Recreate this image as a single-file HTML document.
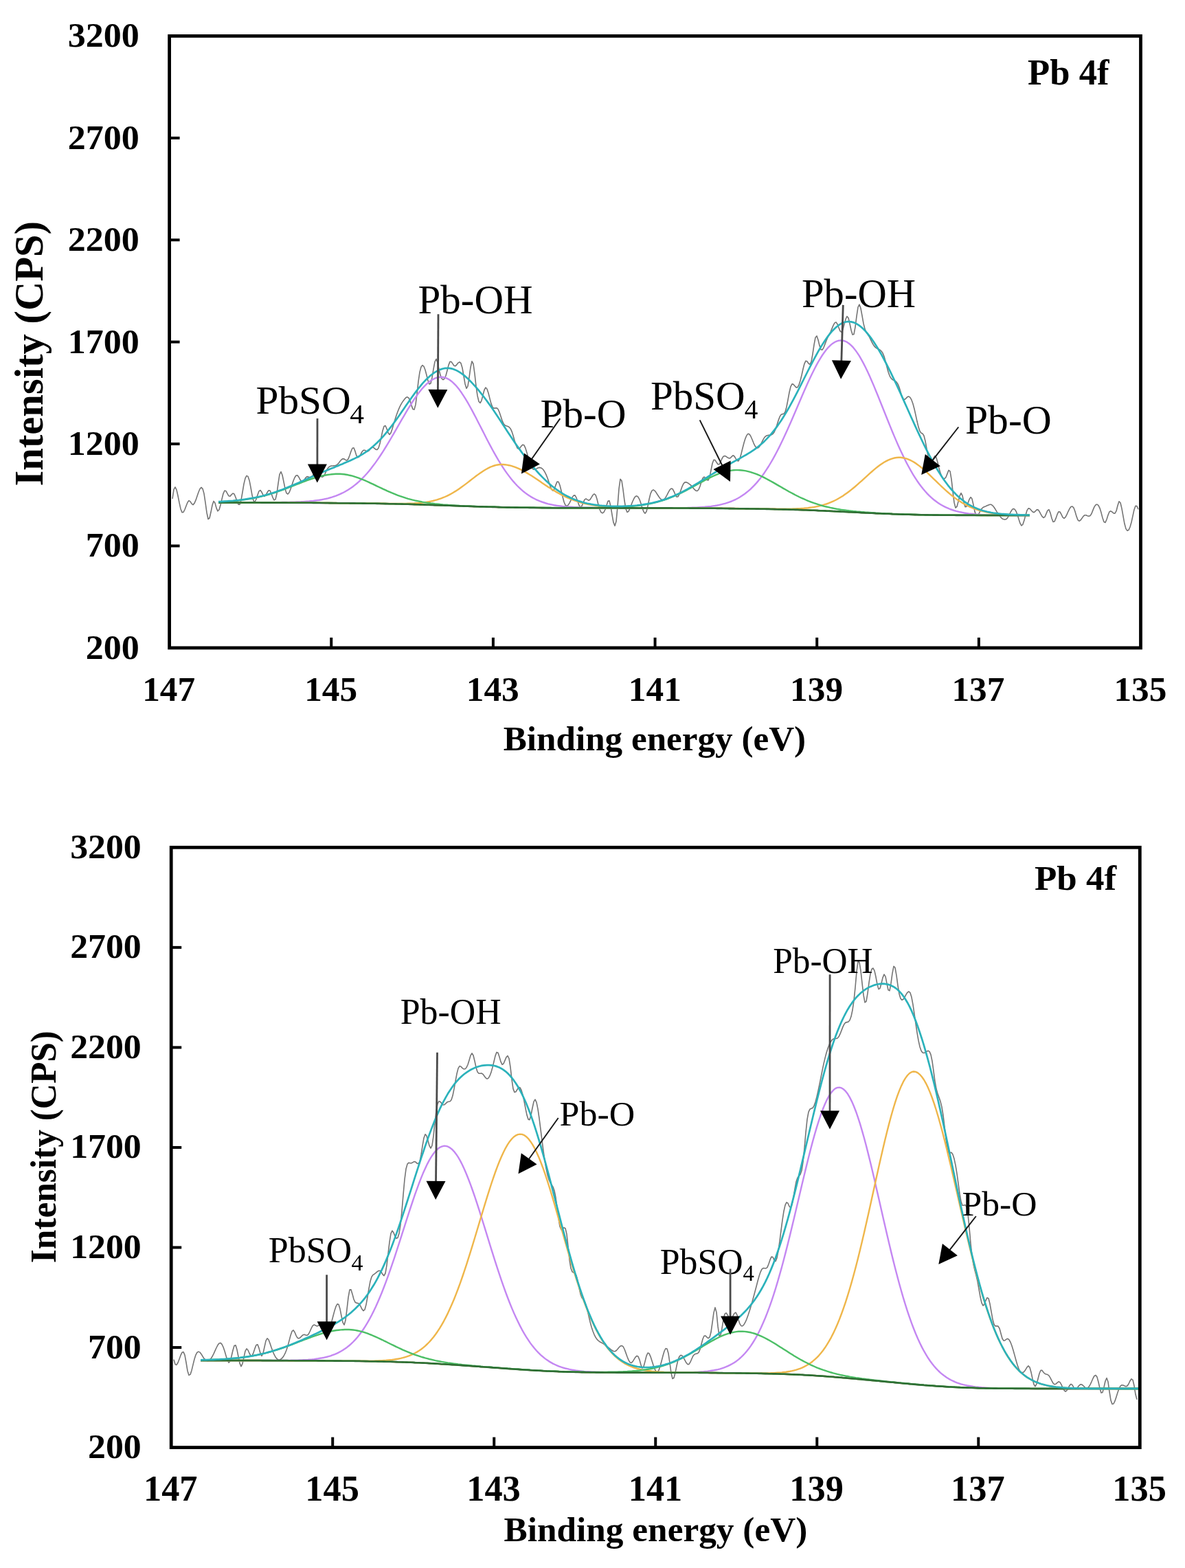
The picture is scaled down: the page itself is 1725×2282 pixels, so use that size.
<!DOCTYPE html>
<html><head><meta charset="utf-8"><title>Pb 4f XPS spectra</title>
<style>html,body{margin:0;padding:0;background:#fff;overflow:hidden;}svg{display:block;}
text{font-family:'Liberation Serif','Times New Roman',serif;}</style></head>
<body><svg width="1725" height="2282" viewBox="0 0 1725 2282">
<rect width="1725" height="2282" fill="#fff"/>
<polyline points="251.0,725.9 253.0,712.3 255.0,708.9 257.0,712.9 259.0,721.5 261.0,731.7 263.0,740.7 265.0,745.6 267.0,745.4 269.0,741.5 271.0,736.2 273.0,731.2 275.0,728.6 277.0,729.9 279.0,733.2 281.0,734.6 283.0,732.4 285.0,727.9 287.0,722.0 289.0,716.2 291.0,711.5 293.0,709.4 295.0,711.3 297.0,718.4 299.0,731.6 301.0,746.2 303.0,755.5 305.0,754.0 307.0,745.3 309.0,735.3 311.0,729.4 313.0,732.1 315.0,739.4 317.0,743.8 319.0,741.7 321.0,735.0 323.0,726.4 325.0,718.3 327.0,714.0 329.0,714.7 331.0,718.3 333.0,721.8 335.0,722.1 337.0,719.9 339.0,718.0 341.0,719.0 343.0,723.8 345.0,729.7 347.0,734.1 349.0,734.3 351.0,727.9 353.0,716.4 355.0,704.4 357.0,696.1 359.0,692.4 361.0,693.4 363.0,699.2 365.0,709.3 367.0,720.6 369.0,728.9 371.0,730.5 373.0,726.5 375.0,720.2 377.0,714.8 379.0,713.5 381.0,716.3 383.0,720.4 385.0,722.3 387.0,720.4 389.0,716.7 391.0,713.7 393.0,714.0 395.0,718.3 397.0,724.0 399.0,727.9 401.0,726.9 403.0,718.2 405.0,703.4 407.0,690.4 409.0,686.5 411.0,691.5 413.0,701.1 415.0,711.2 417.0,717.7 419.0,719.1 421.0,716.7 423.0,711.8 425.0,705.7 427.0,699.8 429.0,695.0 431.0,692.0 433.0,691.7 435.0,694.4 437.0,698.3 439.0,701.1 441.0,700.9 443.0,698.3 445.0,695.2 447.0,693.6 449.0,694.0 451.0,694.8 453.0,694.4 455.0,692.2 457.0,689.2 459.0,687.1 461.0,686.9 463.0,688.6 465.0,691.1 467.0,693.3 469.0,694.4 471.0,693.4 473.0,689.8 475.0,685.4 477.0,681.7 479.0,679.5 481.0,678.4 483.0,678.0 485.0,677.9 487.0,677.7 489.0,677.2 491.0,676.1 493.0,674.0 495.0,671.3 497.0,669.0 499.0,667.6 501.0,668.0 503.0,669.4 505.0,670.0 507.0,667.9 509.0,662.8 511.0,656.8 513.0,652.2 515.0,651.8 517.0,656.9 519.0,663.4 521.0,665.8 523.0,664.5 525.0,661.1 527.0,657.5 529.0,655.3 531.0,655.3 533.0,656.4 535.0,657.1 537.0,655.9 539.0,653.3 541.0,651.1 543.0,650.9 545.0,652.4 547.0,654.1 549.0,654.5 551.0,652.1 553.0,645.6 555.0,636.3 557.0,626.9 559.0,620.4 561.0,619.5 563.0,624.0 565.0,629.7 567.0,632.4 569.0,630.0 571.0,624.2 573.0,617.3 575.0,610.7 577.0,604.5 579.0,599.0 581.0,594.1 583.0,589.9 585.0,586.4 587.0,583.4 589.0,580.8 591.0,578.6 593.0,577.8 595.0,579.1 597.0,583.6 599.0,590.1 601.0,595.4 603.0,596.1 605.0,588.9 607.0,573.1 609.0,555.1 611.0,541.6 613.0,534.0 615.0,531.5 617.0,533.3 619.0,538.5 621.0,546.0 623.0,554.0 625.0,559.0 627.0,558.0 629.0,549.4 631.0,537.2 633.0,526.5 635.0,522.5 637.0,527.8 639.0,537.5 641.0,545.9 643.0,551.0 645.0,552.7 647.0,551.2 649.0,546.7 651.0,539.3 653.0,531.4 655.0,526.4 657.0,526.5 659.0,529.4 661.0,532.2 663.0,532.6 665.0,530.6 667.0,528.1 669.0,526.8 671.0,528.7 673.0,535.5 675.0,547.0 677.0,558.7 679.0,565.3 681.0,561.9 683.0,549.3 685.0,534.7 687.0,525.8 689.0,529.5 691.0,544.0 693.0,561.8 695.0,575.9 697.0,584.2 699.0,586.5 701.0,582.8 703.0,575.1 705.0,567.5 707.0,564.0 709.0,566.2 711.0,572.3 713.0,580.1 715.0,587.6 717.0,592.6 719.0,594.2 721.0,593.9 723.0,593.7 725.0,595.5 727.0,600.0 729.0,606.1 731.0,612.1 733.0,616.6 735.0,618.9 737.0,619.8 739.0,620.4 741.0,621.5 743.0,623.7 745.0,627.8 747.0,634.0 749.0,641.0 751.0,647.4 753.0,652.0 755.0,653.4 757.0,651.8 759.0,649.1 761.0,647.2 763.0,648.1 765.0,652.4 767.0,658.9 769.0,666.3 771.0,673.3 773.0,678.7 775.0,682.1 777.0,683.3 779.0,683.1 781.0,682.1 783.0,681.0 785.0,680.4 787.0,680.7 789.0,681.8 791.0,683.8 793.0,686.9 795.0,690.9 797.0,695.8 799.0,701.7 801.0,707.6 803.0,712.3 805.0,714.1 807.0,711.8 809.0,705.9 811.0,701.1 813.0,701.3 815.0,706.3 817.0,714.2 819.0,722.9 821.0,730.5 823.0,735.1 825.0,736.4 827.0,735.1 829.0,732.1 831.0,728.1 833.0,723.9 835.0,721.1 837.0,720.9 839.0,724.4 841.0,730.1 843.0,735.6 845.0,738.2 847.0,736.3 849.0,731.5 851.0,727.1 853.0,725.8 855.0,727.1 857.0,728.3 859.0,727.0 861.0,723.9 863.0,720.5 865.0,718.8 867.0,720.3 869.0,726.3 871.0,734.5 873.0,741.5 875.0,745.6 877.0,746.8 879.0,745.3 881.0,741.5 883.0,735.4 885.0,729.3 887.0,728.9 889.0,737.0 891.0,749.2 893.0,760.3 895.0,765.3 897.0,758.8 899.0,737.4 901.0,711.4 903.0,697.2 905.0,699.7 907.0,712.5 909.0,728.5 911.0,740.7 913.0,745.4 915.0,744.2 917.0,739.8 919.0,734.5 921.0,729.5 923.0,725.3 925.0,722.6 927.0,721.8 929.0,723.4 931.0,727.1 933.0,732.8 935.0,739.4 937.0,744.8 939.0,747.2 941.0,744.6 943.0,736.5 945.0,726.5 947.0,718.4 949.0,714.1 951.0,712.9 953.0,714.1 955.0,716.6 957.0,719.7 959.0,722.8 961.0,725.5 963.0,727.2 965.0,727.5 967.0,726.4 969.0,723.9 971.0,720.3 973.0,716.3 975.0,712.9 977.0,711.0 979.0,711.5 981.0,715.1 983.0,719.8 985.0,723.1 987.0,722.8 989.0,719.1 991.0,713.7 993.0,708.0 995.0,703.8 997.0,701.9 999.0,701.7 1001.0,702.7 1003.0,704.1 1005.0,705.7 1007.0,707.6 1009.0,709.9 1011.0,712.4 1013.0,714.1 1015.0,714.5 1017.0,712.5 1019.0,707.7 1021.0,701.3 1023.0,695.8 1025.0,694.0 1027.0,695.8 1029.0,698.5 1031.0,699.0 1033.0,694.4 1035.0,684.5 1037.0,674.5 1039.0,669.3 1041.0,669.6 1043.0,672.8 1045.0,675.8 1047.0,675.8 1049.0,672.2 1051.0,667.5 1053.0,664.2 1055.0,663.5 1057.0,664.3 1059.0,665.8 1061.0,666.9 1063.0,666.7 1065.0,664.6 1067.0,662.8 1069.0,664.0 1071.0,667.4 1073.0,670.5 1075.0,671.0 1077.0,667.2 1079.0,660.4 1081.0,652.2 1083.0,644.5 1085.0,638.1 1087.0,633.5 1089.0,631.3 1091.0,632.0 1093.0,635.2 1095.0,639.8 1097.0,644.8 1099.0,649.0 1101.0,651.5 1103.0,652.0 1105.0,650.6 1107.0,647.7 1109.0,643.7 1111.0,639.6 1113.0,636.4 1115.0,634.6 1117.0,633.7 1119.0,633.3 1121.0,633.2 1123.0,632.7 1125.0,631.5 1127.0,628.9 1129.0,624.5 1131.0,618.5 1133.0,612.1 1135.0,606.7 1137.0,603.4 1139.0,602.6 1141.0,602.2 1143.0,599.5 1145.0,592.2 1147.0,581.8 1149.0,571.0 1151.0,562.6 1153.0,558.9 1155.0,559.4 1157.0,561.8 1159.0,563.9 1161.0,563.7 1163.0,560.1 1165.0,554.0 1167.0,546.0 1169.0,537.0 1171.0,529.3 1173.0,525.2 1175.0,526.0 1177.0,529.0 1179.0,530.3 1181.0,526.3 1183.0,515.3 1185.0,501.8 1187.0,491.2 1189.0,488.9 1191.0,494.7 1193.0,503.1 1195.0,508.8 1197.0,509.2 1199.0,505.8 1201.0,500.6 1203.0,495.4 1205.0,491.0 1207.0,487.1 1209.0,483.0 1211.0,478.4 1213.0,473.6 1215.0,469.9 1217.0,468.9 1219.0,471.7 1221.0,477.0 1223.0,481.9 1225.0,483.4 1227.0,479.4 1229.0,471.9 1231.0,464.5 1233.0,460.4 1235.0,462.8 1237.0,471.0 1239.0,480.5 1241.0,487.1 1243.0,486.4 1245.0,475.8 1247.0,460.2 1249.0,447.0 1251.0,443.2 1253.0,448.8 1255.0,459.6 1257.0,470.9 1259.0,478.9 1261.0,483.5 1263.0,486.6 1265.0,489.5 1267.0,493.4 1269.0,497.6 1271.0,501.4 1273.0,504.2 1275.0,506.1 1277.0,507.3 1279.0,508.2 1281.0,509.3 1283.0,511.0 1285.0,513.9 1287.0,518.8 1289.0,525.8 1291.0,533.8 1293.0,541.2 1295.0,546.8 1297.0,550.3 1299.0,552.4 1301.0,553.5 1303.0,554.5 1305.0,556.0 1307.0,558.9 1309.0,563.8 1311.0,570.5 1313.0,577.0 1315.0,581.0 1317.0,581.4 1319.0,579.6 1321.0,577.6 1323.0,577.0 1325.0,578.6 1327.0,582.2 1329.0,587.8 1331.0,595.2 1333.0,604.1 1335.0,613.3 1337.0,621.6 1339.0,627.6 1341.0,630.2 1343.0,631.1 1345.0,634.2 1347.0,642.1 1349.0,653.1 1351.0,664.2 1353.0,672.7 1355.0,675.7 1357.0,672.4 1359.0,666.7 1361.0,663.5 1363.0,666.3 1365.0,673.3 1367.0,681.6 1369.0,688.6 1371.0,693.6 1373.0,696.4 1375.0,696.8 1377.0,694.5 1379.0,689.4 1381.0,684.4 1383.0,685.8 1385.0,697.7 1387.0,715.3 1389.0,731.4 1391.0,739.1 1393.0,737.2 1395.0,729.9 1397.0,721.9 1399.0,717.6 1401.0,721.4 1403.0,730.9 1405.0,737.6 1407.0,737.1 1409.0,732.3 1411.0,726.7 1413.0,723.6 1415.0,726.1 1417.0,734.9 1419.0,744.6 1421.0,750.0 1423.0,750.3 1425.0,747.5 1427.0,743.6 1429.0,740.4 1431.0,738.5 1433.0,737.5 1435.0,736.8 1437.0,735.8 1439.0,734.9 1441.0,734.3 1443.0,734.3 1445.0,735.8 1447.0,738.2 1449.0,741.3 1451.0,744.6 1453.0,747.7 1455.0,750.6 1457.0,753.1 1459.0,754.9 1461.0,755.8 1463.0,756.1 1465.0,755.4 1467.0,753.2 1469.0,749.6 1471.0,745.5 1473.0,742.1 1475.0,740.4 1477.0,741.1 1479.0,744.0 1481.0,749.0 1483.0,755.6 1485.0,761.7 1487.0,765.0 1489.0,763.1 1491.0,757.1 1493.0,749.4 1495.0,742.9 1497.0,739.9 1499.0,740.3 1501.0,742.5 1503.0,744.8 1505.0,745.8 1507.0,744.2 1509.0,741.9 1511.0,741.8 1513.0,744.3 1515.0,748.1 1517.0,751.6 1519.0,753.5 1521.0,752.2 1523.0,747.6 1525.0,742.9 1527.0,741.7 1529.0,746.6 1531.0,754.2 1533.0,759.5 1535.0,759.0 1537.0,754.4 1539.0,748.7 1541.0,744.7 1543.0,745.0 1545.0,748.7 1547.0,752.8 1549.0,754.4 1551.0,752.7 1553.0,748.9 1555.0,744.3 1557.0,740.3 1559.0,737.6 1561.0,737.0 1563.0,739.1 1565.0,744.6 1567.0,751.4 1569.0,756.7 1571.0,758.3 1573.0,757.0 1575.0,754.3 1577.0,751.4 1579.0,749.7 1581.0,749.8 1583.0,750.7 1585.0,751.3 1587.0,750.6 1589.0,747.5 1591.0,742.4 1593.0,737.6 1595.0,734.7 1597.0,734.0 1599.0,735.6 1601.0,739.6 1603.0,746.1 1605.0,753.8 1607.0,759.5 1609.0,760.4 1611.0,756.0 1613.0,749.6 1615.0,744.8 1617.0,743.8 1619.0,745.2 1621.0,746.9 1623.0,747.1 1625.0,743.7 1627.0,735.8 1629.0,729.7 1631.0,731.7 1633.0,740.1 1635.0,751.4 1637.0,762.3 1639.0,769.6 1641.0,772.4 1643.0,771.3 1645.0,767.0 1647.0,760.0 1649.0,750.9 1651.0,741.7 1653.0,736.3 1655.0,736.6 1657.0,741.2" fill="none" stroke="#747474" stroke-width="1.6" stroke-linejoin="round"/>
<polyline points="318.0,731.3 321.0,731.3 324.0,731.3 327.0,731.3 330.0,731.3 333.0,731.3 336.0,731.3 339.0,731.3 342.0,731.3 345.0,731.3 348.0,731.3 351.0,731.3 354.0,731.3 357.0,731.3 360.0,731.3 363.0,731.3 366.0,731.3 369.0,731.3 372.0,731.2 375.0,731.2 378.0,731.2 381.0,731.2 384.0,731.2 387.0,731.2 390.0,731.2 393.0,731.2 396.0,731.2 399.0,731.1 402.0,731.1 405.0,731.1 408.0,731.1 411.0,731.0 414.0,731.0 417.0,730.9 420.0,730.9 423.0,730.8 426.0,730.7 429.0,730.6 432.0,730.5 435.0,730.4 438.0,730.3 441.0,730.1 444.0,729.9 447.0,729.7 450.0,729.5 453.0,729.2 456.0,728.9 459.0,728.5 462.0,728.1 465.0,727.7 468.0,727.2 471.0,726.6 474.0,726.0 477.0,725.3 480.0,724.5 483.0,723.6 486.0,722.6 489.0,721.6 492.0,720.4 495.0,719.1 498.0,717.7 501.0,716.2 504.0,714.5 507.0,712.7 510.0,710.8 513.0,708.7 516.0,706.4 519.0,704.0 522.0,701.4 525.0,698.6 528.0,695.6 531.0,692.5 534.0,689.2 537.0,685.7 540.0,682.0 543.0,678.1 546.0,674.1 549.0,669.9 552.0,665.5 555.0,661.0 558.0,656.3 561.0,651.5 564.0,646.6 567.0,641.6 570.0,636.5 573.0,631.3 576.0,626.1 579.0,620.9 582.0,615.7 585.0,610.4 588.0,605.3 591.0,600.2 594.0,595.2 597.0,590.3 600.0,585.6 603.0,581.0 606.0,576.7 609.0,572.6 612.0,568.7 615.0,565.1 618.0,561.9 621.0,558.9 624.0,556.3 627.0,554.1 630.0,552.2 633.0,550.7 636.0,549.7 639.0,549.0 642.0,548.8 645.0,549.0 648.0,549.7 651.0,550.9 654.0,552.5 657.0,554.7 660.0,557.3 663.0,560.3 666.0,563.8 669.0,567.6 672.0,571.8 675.0,576.3 678.0,581.1 681.0,586.2 684.0,591.5 687.0,596.9 690.0,602.6 693.0,608.3 696.0,614.2 699.0,620.0 702.0,625.9 705.0,631.8 708.0,637.7 711.0,643.5 714.0,649.1 717.0,654.7 720.0,660.1 723.0,665.4 726.0,670.5 729.0,675.4 732.0,680.1 735.0,684.6 738.0,688.9 741.0,692.9 744.0,696.8 747.0,700.4 750.0,703.8 753.0,707.0 756.0,709.9 759.0,712.7 762.0,715.3 765.0,717.6 768.0,719.8 771.0,721.8 774.0,723.6 777.0,725.3 780.0,726.8 783.0,728.2 786.0,729.4 789.0,730.5 792.0,731.5 795.0,732.5 798.0,733.3 801.0,734.0 804.0,734.6 807.0,735.2 810.0,735.7 813.0,736.1 816.0,736.5 819.0,736.9 822.0,737.2 825.0,737.4 828.0,737.7 831.0,737.8 834.0,738.0 837.0,738.2 840.0,738.3 843.0,738.4 846.0,738.5 849.0,738.6 852.0,738.7 855.0,738.7 858.0,738.8 861.0,738.8 864.0,738.9 867.0,738.9 870.0,738.9 873.0,739.0 876.0,739.0 879.0,739.0 882.0,739.0 885.0,739.0 888.0,739.0 891.0,739.1 894.0,739.1 897.0,739.1 900.0,739.1 903.0,739.1 906.0,739.1 909.0,739.1 912.0,739.1 915.0,739.1 918.0,739.1 921.0,739.1 924.0,739.2 927.0,739.2 930.0,739.2 933.0,739.2 936.0,739.2 939.0,739.2 942.0,739.2 945.0,739.2 948.0,739.2 951.0,739.2 954.0,739.2 957.0,739.2 960.0,739.2 963.0,739.2 966.0,739.3 969.0,739.3 972.0,739.3 975.0,739.3 978.0,739.3 981.0,739.3 984.0,739.3 987.0,739.3 990.0,739.3 993.0,739.4 996.0,739.4 999.0,739.4 1002.0,739.4 1005.0,739.4 1008.0,739.4 1011.0,739.5 1014.0,739.5 1017.0,739.5 1020.0,739.5 1023.0,739.6 1026.0,739.6 1029.0,739.6 1032.0,739.6 1035.0,739.7 1038.0,739.7 1041.0,739.7 1044.0,739.8 1047.0,739.8 1050.0,739.8 1053.0,739.8 1056.0,739.9 1059.0,739.9 1062.0,740.0 1065.0,740.0 1068.0,740.0 1071.0,740.1 1074.0,740.1 1077.0,740.2 1080.0,740.2 1083.0,740.2 1086.0,740.3 1089.0,740.3 1092.0,740.4 1095.0,740.4 1098.0,740.5 1101.0,740.5 1104.0,740.6 1107.0,740.6 1110.0,740.7 1113.0,740.7 1116.0,740.8 1119.0,740.8 1122.0,740.9 1125.0,741.0 1128.0,741.0 1131.0,741.1 1134.0,741.2 1137.0,741.2 1140.0,741.3 1143.0,741.4 1146.0,741.4 1149.0,741.5 1152.0,741.6 1155.0,741.7 1158.0,741.8 1161.0,741.9 1164.0,742.0 1167.0,742.1 1170.0,742.2 1173.0,742.3 1176.0,742.4 1179.0,742.5 1182.0,742.6 1185.0,742.7 1188.0,742.9 1191.0,743.0 1194.0,743.1 1197.0,743.3 1200.0,743.4 1203.0,743.5 1206.0,743.7 1209.0,743.8 1212.0,743.9 1215.0,744.1 1218.0,744.2 1221.0,744.4 1224.0,744.5 1227.0,744.7 1230.0,744.8 1233.0,745.0 1236.0,745.1 1239.0,745.3 1242.0,745.4 1245.0,745.6 1248.0,745.7 1251.0,745.9 1254.0,746.0 1257.0,746.2 1260.0,746.3 1263.0,746.5 1266.0,746.6 1269.0,746.8 1272.0,746.9 1275.0,747.0 1278.0,747.2 1281.0,747.3 1284.0,747.4 1287.0,747.6 1290.0,747.7 1293.0,747.8 1296.0,747.9 1299.0,748.0 1302.0,748.1 1305.0,748.2 1308.0,748.3 1311.0,748.4 1314.0,748.5 1317.0,748.6 1320.0,748.7 1323.0,748.8 1326.0,748.9 1329.0,748.9 1332.0,749.0 1335.0,749.1 1338.0,749.2 1341.0,749.2 1344.0,749.3 1347.0,749.3 1350.0,749.4 1353.0,749.4 1356.0,749.5 1359.0,749.5 1362.0,749.6 1365.0,749.6 1368.0,749.6 1371.0,749.7 1374.0,749.7 1377.0,749.7 1380.0,749.7 1383.0,749.8 1386.0,749.8 1389.0,749.8 1392.0,749.8 1395.0,749.8 1398.0,749.9 1401.0,749.9 1404.0,749.9 1407.0,749.9 1410.0,749.9 1413.0,749.9 1416.0,749.9 1419.0,749.9 1422.0,749.9 1425.0,749.9 1428.0,749.9 1431.0,749.9 1434.0,749.9 1437.0,750.0 1440.0,750.0 1443.0,750.0 1446.0,750.0 1449.0,750.0 1452.0,750.0 1455.0,750.0 1458.0,750.0 1461.0,750.0 1464.0,750.0 1467.0,750.0 1470.0,750.0 1473.0,750.0 1476.0,750.0 1479.0,750.0 1482.0,750.0 1485.0,750.0 1488.0,750.0 1491.0,750.0 1494.0,750.0 1497.0,750.0 1499.0,750.0" fill="none" stroke="#c487f2" stroke-width="2.4" stroke-linejoin="round"/>
<polyline points="318.0,731.5 321.0,731.5 324.0,731.5 327.0,731.5 330.0,731.5 333.0,731.5 336.0,731.5 339.0,731.5 342.0,731.5 345.0,731.5 348.0,731.5 351.0,731.5 354.0,731.5 357.0,731.5 360.0,731.5 363.0,731.5 366.0,731.5 369.0,731.5 372.0,731.5 375.0,731.5 378.0,731.5 381.0,731.6 384.0,731.6 387.0,731.6 390.0,731.6 393.0,731.6 396.0,731.6 399.0,731.6 402.0,731.6 405.0,731.6 408.0,731.6 411.0,731.6 414.0,731.6 417.0,731.6 420.0,731.7 423.0,731.7 426.0,731.7 429.0,731.7 432.0,731.7 435.0,731.7 438.0,731.7 441.0,731.8 444.0,731.8 447.0,731.8 450.0,731.8 453.0,731.8 456.0,731.9 459.0,731.9 462.0,731.9 465.0,731.9 468.0,732.0 471.0,732.0 474.0,732.0 477.0,732.0 480.0,732.1 483.0,732.1 486.0,732.1 489.0,732.1 492.0,732.2 495.0,732.2 498.0,732.2 501.0,732.3 504.0,732.3 507.0,732.3 510.0,732.4 513.0,732.4 516.0,732.4 519.0,732.5 522.0,732.5 525.0,732.5 528.0,732.6 531.0,732.6 534.0,732.7 537.0,732.7 540.0,732.7 543.0,732.8 546.0,732.8 549.0,732.9 552.0,732.9 555.0,733.0 558.0,733.0 561.0,733.1 564.0,733.1 567.0,733.2 570.0,733.3 573.0,733.3 576.0,733.4 579.0,733.5 582.0,733.5 585.0,733.6 588.0,733.7 591.0,733.8 594.0,733.8 597.0,733.9 600.0,734.0 603.0,734.1 606.0,734.2 609.0,734.3 612.0,734.4 615.0,734.5 618.0,734.6 621.0,734.7 624.0,734.8 627.0,734.9 630.0,735.0 633.0,735.1 636.0,735.2 639.0,735.3 642.0,735.4 645.0,735.5 648.0,735.6 651.0,735.7 654.0,735.8 657.0,735.9 660.0,736.0 663.0,736.1 666.0,736.3 669.0,736.4 672.0,736.5 675.0,736.6 678.0,736.7 681.0,736.8 684.0,736.9 687.0,737.0 690.0,737.1 693.0,737.2 696.0,737.3 699.0,737.4 702.0,737.4 705.0,737.5 708.0,737.6 711.0,737.7 714.0,737.8 717.0,737.9 720.0,737.9 723.0,738.0 726.0,738.1 729.0,738.2 732.0,738.2 735.0,738.3 738.0,738.4 741.0,738.4 744.0,738.5 747.0,738.5 750.0,738.6 753.0,738.6 756.0,738.7 759.0,738.7 762.0,738.8 765.0,738.8 768.0,738.8 771.0,738.9 774.0,738.9 777.0,738.9 780.0,739.0 783.0,739.0 786.0,739.0 789.0,739.1 792.0,739.1 795.0,739.1 798.0,739.1 801.0,739.1 804.0,739.2 807.0,739.2 810.0,739.2 813.0,739.2 816.0,739.2 819.0,739.2 822.0,739.2 825.0,739.3 828.0,739.3 831.0,739.3 834.0,739.3 837.0,739.3 840.0,739.3 843.0,739.3 846.0,739.3 849.0,739.3 852.0,739.3 855.0,739.3 858.0,739.3 861.0,739.3 864.0,739.3 867.0,739.3 870.0,739.3 873.0,739.3 876.0,739.3 879.0,739.3 882.0,739.3 885.0,739.3 888.0,739.3 891.0,739.3 894.0,739.3 897.0,739.3 900.0,739.3 903.0,739.4 906.0,739.4 909.0,739.4 912.0,739.4 915.0,739.4 918.0,739.4 921.0,739.4 924.0,739.4 927.0,739.4 930.0,739.4 933.0,739.4 936.0,739.4 939.0,739.4 942.0,739.4 945.0,739.4 948.0,739.4 951.0,739.4 954.0,739.4 957.0,739.4 960.0,739.4 963.0,739.4 966.0,739.4 969.0,739.3 972.0,739.3 975.0,739.3 978.0,739.3 981.0,739.3 984.0,739.3 987.0,739.2 990.0,739.2 993.0,739.2 996.0,739.1 999.0,739.1 1002.0,739.0 1005.0,738.9 1008.0,738.8 1011.0,738.7 1014.0,738.6 1017.0,738.4 1020.0,738.2 1023.0,738.0 1026.0,737.8 1029.0,737.5 1032.0,737.2 1035.0,736.9 1038.0,736.4 1041.0,736.0 1044.0,735.5 1047.0,734.9 1050.0,734.2 1053.0,733.4 1056.0,732.6 1059.0,731.7 1062.0,730.6 1065.0,729.5 1068.0,728.2 1071.0,726.8 1074.0,725.2 1077.0,723.5 1080.0,721.6 1083.0,719.6 1086.0,717.3 1089.0,714.9 1092.0,712.3 1095.0,709.4 1098.0,706.4 1101.0,703.1 1104.0,699.6 1107.0,695.9 1110.0,691.9 1113.0,687.7 1116.0,683.2 1119.0,678.5 1122.0,673.5 1125.0,668.3 1128.0,662.9 1131.0,657.3 1134.0,651.4 1137.0,645.3 1140.0,639.0 1143.0,632.6 1146.0,626.0 1149.0,619.3 1152.0,612.4 1155.0,605.5 1158.0,598.5 1161.0,591.5 1164.0,584.5 1167.0,577.5 1170.0,570.6 1173.0,563.7 1176.0,557.1 1179.0,550.5 1182.0,544.2 1185.0,538.2 1188.0,532.4 1191.0,526.9 1194.0,521.8 1197.0,517.0 1200.0,512.7 1203.0,508.8 1206.0,505.3 1209.0,502.4 1212.0,499.9 1215.0,498.0 1218.0,496.6 1221.0,495.7 1224.0,495.4 1227.0,495.6 1230.0,496.5 1233.0,497.9 1236.0,500.0 1239.0,502.6 1242.0,505.7 1245.0,509.4 1248.0,513.6 1251.0,518.2 1254.0,523.4 1257.0,528.9 1260.0,534.8 1263.0,541.1 1266.0,547.6 1269.0,554.4 1272.0,561.4 1275.0,568.7 1278.0,576.0 1281.0,583.5 1284.0,591.0 1287.0,598.5 1290.0,606.0 1293.0,613.5 1296.0,620.9 1299.0,628.2 1302.0,635.4 1305.0,642.4 1308.0,649.2 1311.0,655.8 1314.0,662.1 1317.0,668.3 1320.0,674.2 1323.0,679.8 1326.0,685.2 1329.0,690.3 1332.0,695.1 1335.0,699.7 1338.0,704.0 1341.0,708.0 1344.0,711.8 1347.0,715.3 1350.0,718.6 1353.0,721.6 1356.0,724.4 1359.0,727.0 1362.0,729.3 1365.0,731.5 1368.0,733.5 1371.0,735.3 1374.0,736.9 1377.0,738.4 1380.0,739.7 1383.0,741.0 1386.0,742.0 1389.0,743.0 1392.0,743.9 1395.0,744.6 1398.0,745.3 1401.0,745.9 1404.0,746.5 1407.0,747.0 1410.0,747.4 1413.0,747.7 1416.0,748.0 1419.0,748.3 1422.0,748.6 1425.0,748.8 1428.0,749.0 1431.0,749.1 1434.0,749.3 1437.0,749.4 1440.0,749.5 1443.0,749.6 1446.0,749.6 1449.0,749.7 1452.0,749.7 1455.0,749.8 1458.0,749.8 1461.0,749.8 1464.0,749.9 1467.0,749.9 1470.0,749.9 1473.0,749.9 1476.0,749.9 1479.0,750.0 1482.0,750.0 1485.0,750.0 1488.0,750.0 1491.0,750.0 1494.0,750.0 1497.0,750.0 1499.0,750.0" fill="none" stroke="#c487f2" stroke-width="2.4" stroke-linejoin="round"/>
<polyline points="318.0,731.5 321.0,731.5 324.0,731.5 327.0,731.5 330.0,731.5 333.0,731.5 336.0,731.5 339.0,731.5 342.0,731.5 345.0,731.5 348.0,731.5 351.0,731.5 354.0,731.5 357.0,731.5 360.0,731.5 363.0,731.5 366.0,731.5 369.0,731.5 372.0,731.5 375.0,731.5 378.0,731.5 381.0,731.5 384.0,731.5 387.0,731.5 390.0,731.5 393.0,731.5 396.0,731.5 399.0,731.5 402.0,731.5 405.0,731.6 408.0,731.6 411.0,731.6 414.0,731.6 417.0,731.6 420.0,731.6 423.0,731.6 426.0,731.6 429.0,731.6 432.0,731.7 435.0,731.7 438.0,731.7 441.0,731.7 444.0,731.7 447.0,731.7 450.0,731.8 453.0,731.8 456.0,731.8 459.0,731.8 462.0,731.8 465.0,731.9 468.0,731.9 471.0,731.9 474.0,731.9 477.0,731.9 480.0,732.0 483.0,732.0 486.0,732.0 489.0,732.0 492.0,732.1 495.0,732.1 498.0,732.1 501.0,732.2 504.0,732.2 507.0,732.2 510.0,732.3 513.0,732.3 516.0,732.3 519.0,732.3 522.0,732.4 525.0,732.4 528.0,732.4 531.0,732.5 534.0,732.5 537.0,732.6 540.0,732.6 543.0,732.6 546.0,732.7 549.0,732.7 552.0,732.7 555.0,732.8 558.0,732.8 561.0,732.8 564.0,732.9 567.0,732.9 570.0,732.9 573.0,733.0 576.0,733.0 579.0,733.0 582.0,733.0 585.0,733.0 588.0,732.9 591.0,732.9 594.0,732.8 597.0,732.7 600.0,732.6 603.0,732.5 606.0,732.3 609.0,732.1 612.0,731.8 615.0,731.5 618.0,731.1 621.0,730.7 624.0,730.2 627.0,729.6 630.0,729.0 633.0,728.2 636.0,727.4 639.0,726.4 642.0,725.4 645.0,724.2 648.0,723.0 651.0,721.6 654.0,720.1 657.0,718.5 660.0,716.7 663.0,714.9 666.0,713.0 669.0,710.9 672.0,708.8 675.0,706.6 678.0,704.4 681.0,702.1 684.0,699.8 687.0,697.4 690.0,695.1 693.0,692.8 696.0,690.6 699.0,688.5 702.0,686.4 705.0,684.5 708.0,682.7 711.0,681.1 714.0,679.7 717.0,678.5 720.0,677.5 723.0,676.7 726.0,676.3 729.0,676.0 732.0,676.0 735.0,676.2 738.0,676.6 741.0,677.2 744.0,677.9 747.0,678.8 750.0,679.9 753.0,681.1 756.0,682.4 759.0,683.9 762.0,685.5 765.0,687.1 768.0,688.9 771.0,690.7 774.0,692.6 777.0,694.6 780.0,696.6 783.0,698.6 786.0,700.6 789.0,702.7 792.0,704.7 795.0,706.7 798.0,708.7 801.0,710.6 804.0,712.5 807.0,714.3 810.0,716.1 813.0,717.8 816.0,719.4 819.0,721.0 822.0,722.4 825.0,723.9 828.0,725.2 831.0,726.4 834.0,727.6 837.0,728.7 840.0,729.7 843.0,730.6 846.0,731.5 849.0,732.3 852.0,733.0 855.0,733.7 858.0,734.3 861.0,734.8 864.0,735.3 867.0,735.8 870.0,736.2 873.0,736.6 876.0,736.9 879.0,737.2 882.0,737.4 885.0,737.7 888.0,737.9 891.0,738.0 894.0,738.2 897.0,738.3 900.0,738.5 903.0,738.6 906.0,738.7 909.0,738.7 912.0,738.8 915.0,738.9 918.0,738.9 921.0,739.0 924.0,739.0 927.0,739.0 930.0,739.1 933.0,739.1 936.0,739.1 939.0,739.1 942.0,739.2 945.0,739.2 948.0,739.2 951.0,739.2 954.0,739.2 957.0,739.2 960.0,739.2 963.0,739.3 966.0,739.3 969.0,739.3 972.0,739.3 975.0,739.3 978.0,739.3 981.0,739.3 984.0,739.3 987.0,739.4 990.0,739.4 993.0,739.4 996.0,739.4 999.0,739.4 1002.0,739.4 1005.0,739.5 1008.0,739.5 1011.0,739.5 1014.0,739.5 1017.0,739.5 1020.0,739.6 1023.0,739.6 1026.0,739.6 1029.0,739.6 1032.0,739.7 1035.0,739.7 1038.0,739.7 1041.0,739.7 1044.0,739.8 1047.0,739.8 1050.0,739.8 1053.0,739.9 1056.0,739.9 1059.0,739.9 1062.0,740.0 1065.0,740.0 1068.0,740.1 1071.0,740.1 1074.0,740.1 1077.0,740.2 1080.0,740.2 1083.0,740.3 1086.0,740.3 1089.0,740.3 1092.0,740.4 1095.0,740.4 1098.0,740.5 1101.0,740.5 1104.0,740.6 1107.0,740.6 1110.0,740.7 1113.0,740.7 1116.0,740.8 1119.0,740.9 1122.0,740.9 1125.0,741.0 1128.0,741.0 1131.0,741.1 1134.0,741.2 1137.0,741.2 1140.0,741.3 1143.0,741.4 1146.0,741.5 1149.0,741.5 1152.0,741.6 1155.0,741.7 1158.0,741.8 1161.0,741.9 1164.0,742.0 1167.0,742.1 1170.0,742.2 1173.0,742.3 1176.0,742.4 1179.0,742.5 1182.0,742.6 1185.0,742.8 1188.0,742.9 1191.0,743.0 1194.0,743.1 1197.0,743.3 1200.0,743.4 1203.0,743.5 1206.0,743.7 1209.0,743.8 1212.0,744.0 1215.0,744.1 1218.0,744.3 1221.0,744.4 1224.0,744.6 1227.0,744.7 1230.0,744.9 1233.0,745.0 1236.0,745.2 1239.0,745.3 1242.0,745.5 1245.0,745.6 1248.0,745.8 1251.0,745.9 1254.0,746.1 1257.0,746.2 1260.0,746.4 1263.0,746.5 1266.0,746.6 1269.0,746.8 1272.0,746.9 1275.0,747.1 1278.0,747.2 1281.0,747.3 1284.0,747.4 1287.0,747.6 1290.0,747.7 1293.0,747.8 1296.0,747.9 1299.0,748.0 1302.0,748.1 1305.0,748.2 1308.0,748.3 1311.0,748.4 1314.0,748.5 1317.0,748.6 1320.0,748.7 1323.0,748.8 1326.0,748.9 1329.0,749.0 1332.0,749.0 1335.0,749.1 1338.0,749.2 1341.0,749.2 1344.0,749.3 1347.0,749.3 1350.0,749.4 1353.0,749.4 1356.0,749.5 1359.0,749.5 1362.0,749.6 1365.0,749.6 1368.0,749.6 1371.0,749.7 1374.0,749.7 1377.0,749.7 1380.0,749.8 1383.0,749.8 1386.0,749.8 1389.0,749.8 1392.0,749.8 1395.0,749.9 1398.0,749.9 1401.0,749.9 1404.0,749.9 1407.0,749.9 1410.0,749.9 1413.0,749.9 1416.0,749.9 1419.0,749.9 1422.0,749.9 1425.0,749.9 1428.0,750.0 1431.0,750.0 1434.0,750.0 1437.0,750.0 1440.0,750.0 1443.0,750.0 1446.0,750.0 1449.0,750.0 1452.0,750.0 1455.0,750.0 1458.0,750.0 1461.0,750.0 1464.0,750.0 1467.0,750.0 1470.0,750.0 1473.0,750.0 1476.0,750.0 1479.0,750.0 1482.0,750.0 1485.0,750.0 1488.0,750.0 1491.0,750.0 1494.0,750.0 1497.0,750.0 1499.0,750.0" fill="none" stroke="#efb64a" stroke-width="2.4" stroke-linejoin="round"/>
<polyline points="318.0,731.5 321.0,731.5 324.0,731.5 327.0,731.5 330.0,731.5 333.0,731.5 336.0,731.5 339.0,731.5 342.0,731.5 345.0,731.5 348.0,731.5 351.0,731.5 354.0,731.5 357.0,731.5 360.0,731.5 363.0,731.5 366.0,731.5 369.0,731.5 372.0,731.5 375.0,731.5 378.0,731.5 381.0,731.5 384.0,731.5 387.0,731.6 390.0,731.6 393.0,731.6 396.0,731.6 399.0,731.6 402.0,731.6 405.0,731.6 408.0,731.6 411.0,731.6 414.0,731.6 417.0,731.6 420.0,731.6 423.0,731.7 426.0,731.7 429.0,731.7 432.0,731.7 435.0,731.7 438.0,731.7 441.0,731.8 444.0,731.8 447.0,731.8 450.0,731.8 453.0,731.8 456.0,731.9 459.0,731.9 462.0,731.9 465.0,731.9 468.0,731.9 471.0,732.0 474.0,732.0 477.0,732.0 480.0,732.0 483.0,732.1 486.0,732.1 489.0,732.1 492.0,732.2 495.0,732.2 498.0,732.2 501.0,732.2 504.0,732.3 507.0,732.3 510.0,732.3 513.0,732.4 516.0,732.4 519.0,732.5 522.0,732.5 525.0,732.5 528.0,732.6 531.0,732.6 534.0,732.6 537.0,732.7 540.0,732.7 543.0,732.8 546.0,732.8 549.0,732.9 552.0,732.9 555.0,733.0 558.0,733.0 561.0,733.1 564.0,733.1 567.0,733.2 570.0,733.2 573.0,733.3 576.0,733.4 579.0,733.4 582.0,733.5 585.0,733.6 588.0,733.7 591.0,733.7 594.0,733.8 597.0,733.9 600.0,734.0 603.0,734.1 606.0,734.2 609.0,734.3 612.0,734.3 615.0,734.4 618.0,734.5 621.0,734.6 624.0,734.7 627.0,734.8 630.0,734.9 633.0,735.0 636.0,735.2 639.0,735.3 642.0,735.4 645.0,735.5 648.0,735.6 651.0,735.7 654.0,735.8 657.0,735.9 660.0,736.0 663.0,736.1 666.0,736.2 669.0,736.3 672.0,736.4 675.0,736.6 678.0,736.7 681.0,736.8 684.0,736.9 687.0,737.0 690.0,737.1 693.0,737.1 696.0,737.2 699.0,737.3 702.0,737.4 705.0,737.5 708.0,737.6 711.0,737.7 714.0,737.8 717.0,737.8 720.0,737.9 723.0,738.0 726.0,738.1 729.0,738.1 732.0,738.2 735.0,738.3 738.0,738.3 741.0,738.4 744.0,738.4 747.0,738.5 750.0,738.5 753.0,738.6 756.0,738.6 759.0,738.7 762.0,738.7 765.0,738.8 768.0,738.8 771.0,738.8 774.0,738.9 777.0,738.9 780.0,738.9 783.0,739.0 786.0,739.0 789.0,739.0 792.0,739.1 795.0,739.1 798.0,739.1 801.0,739.1 804.0,739.1 807.0,739.1 810.0,739.2 813.0,739.2 816.0,739.2 819.0,739.2 822.0,739.2 825.0,739.2 828.0,739.2 831.0,739.2 834.0,739.2 837.0,739.2 840.0,739.3 843.0,739.3 846.0,739.3 849.0,739.3 852.0,739.3 855.0,739.3 858.0,739.3 861.0,739.3 864.0,739.3 867.0,739.3 870.0,739.3 873.0,739.3 876.0,739.3 879.0,739.3 882.0,739.3 885.0,739.3 888.0,739.3 891.0,739.3 894.0,739.3 897.0,739.3 900.0,739.3 903.0,739.3 906.0,739.3 909.0,739.3 912.0,739.3 915.0,739.3 918.0,739.3 921.0,739.3 924.0,739.3 927.0,739.3 930.0,739.3 933.0,739.3 936.0,739.3 939.0,739.3 942.0,739.3 945.0,739.3 948.0,739.3 951.0,739.3 954.0,739.3 957.0,739.3 960.0,739.3 963.0,739.3 966.0,739.3 969.0,739.3 972.0,739.4 975.0,739.4 978.0,739.4 981.0,739.4 984.0,739.4 987.0,739.4 990.0,739.4 993.0,739.4 996.0,739.4 999.0,739.4 1002.0,739.4 1005.0,739.5 1008.0,739.5 1011.0,739.5 1014.0,739.5 1017.0,739.5 1020.0,739.5 1023.0,739.6 1026.0,739.6 1029.0,739.6 1032.0,739.6 1035.0,739.7 1038.0,739.7 1041.0,739.7 1044.0,739.7 1047.0,739.8 1050.0,739.8 1053.0,739.8 1056.0,739.8 1059.0,739.9 1062.0,739.9 1065.0,739.9 1068.0,740.0 1071.0,740.0 1074.0,740.0 1077.0,740.1 1080.0,740.1 1083.0,740.2 1086.0,740.2 1089.0,740.2 1092.0,740.3 1095.0,740.3 1098.0,740.3 1101.0,740.4 1104.0,740.4 1107.0,740.5 1110.0,740.5 1113.0,740.5 1116.0,740.6 1119.0,740.6 1122.0,740.6 1125.0,740.6 1128.0,740.7 1131.0,740.7 1134.0,740.7 1137.0,740.7 1140.0,740.7 1143.0,740.7 1146.0,740.7 1149.0,740.6 1152.0,740.6 1155.0,740.5 1158.0,740.4 1161.0,740.3 1164.0,740.2 1167.0,740.0 1170.0,739.8 1173.0,739.5 1176.0,739.2 1179.0,738.8 1182.0,738.4 1185.0,738.0 1188.0,737.4 1191.0,736.8 1194.0,736.1 1197.0,735.3 1200.0,734.4 1203.0,733.5 1206.0,732.4 1209.0,731.2 1212.0,729.9 1215.0,728.5 1218.0,727.0 1221.0,725.3 1224.0,723.5 1227.0,721.7 1230.0,719.6 1233.0,717.5 1236.0,715.3 1239.0,712.9 1242.0,710.5 1245.0,708.0 1248.0,705.4 1251.0,702.7 1254.0,700.1 1257.0,697.3 1260.0,694.6 1263.0,691.9 1266.0,689.1 1269.0,686.5 1272.0,683.9 1275.0,681.4 1278.0,679.0 1281.0,676.8 1284.0,674.7 1287.0,672.8 1290.0,671.1 1293.0,669.6 1296.0,668.3 1299.0,667.3 1302.0,666.5 1305.0,666.0 1308.0,665.8 1311.0,665.8 1314.0,666.2 1317.0,666.8 1320.0,667.6 1323.0,668.8 1326.0,670.2 1329.0,671.8 1332.0,673.6 1335.0,675.7 1338.0,677.9 1341.0,680.3 1344.0,682.8 1347.0,685.4 1350.0,688.2 1353.0,691.0 1356.0,693.9 1359.0,696.8 1362.0,699.7 1365.0,702.6 1368.0,705.5 1371.0,708.4 1374.0,711.2 1377.0,713.9 1380.0,716.5 1383.0,719.1 1386.0,721.5 1389.0,723.9 1392.0,726.1 1395.0,728.2 1398.0,730.1 1401.0,732.0 1404.0,733.7 1407.0,735.3 1410.0,736.8 1413.0,738.2 1416.0,739.4 1419.0,740.6 1422.0,741.6 1425.0,742.6 1428.0,743.5 1431.0,744.2 1434.0,744.9 1437.0,745.5 1440.0,746.1 1443.0,746.6 1446.0,747.0 1449.0,747.4 1452.0,747.7 1455.0,748.0 1458.0,748.3 1461.0,748.5 1464.0,748.7 1467.0,748.9 1470.0,749.0 1473.0,749.1 1476.0,749.2 1479.0,749.3 1482.0,749.4 1485.0,749.5 1488.0,749.5 1491.0,749.6 1494.0,749.6 1497.0,749.6 1499.0,749.7" fill="none" stroke="#efb64a" stroke-width="2.4" stroke-linejoin="round"/>
<polyline points="318.0,730.4 321.0,730.2 324.0,730.1 327.0,729.9 330.0,729.7 333.0,729.5 336.0,729.3 339.0,729.1 342.0,728.8 345.0,728.5 348.0,728.2 351.0,727.8 354.0,727.4 357.0,727.0 360.0,726.6 363.0,726.1 366.0,725.6 369.0,725.0 372.0,724.4 375.0,723.8 378.0,723.1 381.0,722.4 384.0,721.6 387.0,720.8 390.0,720.0 393.0,719.1 396.0,718.2 399.0,717.3 402.0,716.3 405.0,715.2 408.0,714.2 411.0,713.1 414.0,712.0 417.0,710.8 420.0,709.7 423.0,708.5 426.0,707.3 429.0,706.2 432.0,705.0 435.0,703.8 438.0,702.6 441.0,701.4 444.0,700.3 447.0,699.2 450.0,698.1 453.0,697.1 456.0,696.1 459.0,695.2 462.0,694.3 465.0,693.5 468.0,692.7 471.0,692.1 474.0,691.5 477.0,691.0 480.0,690.6 483.0,690.2 486.0,690.0 489.0,689.8 492.0,689.8 495.0,689.8 498.0,690.0 501.0,690.3 504.0,690.8 507.0,691.3 510.0,692.0 513.0,692.7 516.0,693.6 519.0,694.6 522.0,695.6 525.0,696.8 528.0,698.0 531.0,699.2 534.0,700.5 537.0,701.9 540.0,703.3 543.0,704.7 546.0,706.1 549.0,707.6 552.0,709.0 555.0,710.4 558.0,711.8 561.0,713.2 564.0,714.6 567.0,715.9 570.0,717.2 573.0,718.4 576.0,719.6 579.0,720.8 582.0,721.9 585.0,722.9 588.0,723.9 591.0,724.9 594.0,725.8 597.0,726.6 600.0,727.4 603.0,728.1 606.0,728.8 609.0,729.4 612.0,730.0 615.0,730.6 618.0,731.1 621.0,731.6 624.0,732.0 627.0,732.5 630.0,732.8 633.0,733.2 636.0,733.5 639.0,733.8 642.0,734.1 645.0,734.4 648.0,734.6 651.0,734.8 654.0,735.1 657.0,735.3 660.0,735.4 663.0,735.6 666.0,735.8 669.0,736.0 672.0,736.1 675.0,736.3 678.0,736.4 681.0,736.5 684.0,736.6 687.0,736.8 690.0,736.9 693.0,737.0 696.0,737.1 699.0,737.2 702.0,737.3 705.0,737.4 708.0,737.5 711.0,737.6 714.0,737.7 717.0,737.8 720.0,737.8 723.0,737.9 726.0,738.0 729.0,738.1 732.0,738.1 735.0,738.2 738.0,738.3 741.0,738.3 744.0,738.4 747.0,738.4 750.0,738.5 753.0,738.6 756.0,738.6 759.0,738.6 762.0,738.7 765.0,738.7 768.0,738.8 771.0,738.8 774.0,738.9 777.0,738.9 780.0,738.9 783.0,738.9 786.0,739.0 789.0,739.0 792.0,739.0 795.0,739.1 798.0,739.1 801.0,739.1 804.0,739.1 807.0,739.1 810.0,739.1 813.0,739.2 816.0,739.2 819.0,739.2 822.0,739.2 825.0,739.2 828.0,739.2 831.0,739.2 834.0,739.2 837.0,739.2 840.0,739.3 843.0,739.3 846.0,739.3 849.0,739.3 852.0,739.3 855.0,739.3 858.0,739.3 861.0,739.3 864.0,739.3 867.0,739.3 870.0,739.3 873.0,739.3 876.0,739.3 879.0,739.3 882.0,739.3 885.0,739.3 888.0,739.3 891.0,739.3 894.0,739.3 897.0,739.3 900.0,739.3 903.0,739.3 906.0,739.3 909.0,739.3 912.0,739.3 915.0,739.3 918.0,739.3 921.0,739.3 924.0,739.3 927.0,739.3 930.0,739.3 933.0,739.3 936.0,739.3 939.0,739.3 942.0,739.4 945.0,739.4 948.0,739.4 951.0,739.4 954.0,739.4 957.0,739.4 960.0,739.4 963.0,739.4 966.0,739.4 969.0,739.4 972.0,739.4 975.0,739.4 978.0,739.4 981.0,739.4 984.0,739.4 987.0,739.5 990.0,739.5 993.0,739.5 996.0,739.5 999.0,739.5 1002.0,739.5 1005.0,739.5 1008.0,739.6 1011.0,739.6 1014.0,739.6 1017.0,739.6 1020.0,739.6 1023.0,739.7 1026.0,739.7 1029.0,739.7 1032.0,739.7 1035.0,739.8 1038.0,739.8 1041.0,739.8 1044.0,739.8 1047.0,739.9 1050.0,739.9 1053.0,739.9 1056.0,740.0 1059.0,740.0 1062.0,740.0 1065.0,740.1 1068.0,740.1 1071.0,740.1 1074.0,740.2 1077.0,740.2 1080.0,740.3 1083.0,740.3 1086.0,740.4 1089.0,740.4 1092.0,740.4 1095.0,740.5 1098.0,740.5 1101.0,740.6 1104.0,740.6 1107.0,740.7 1110.0,740.7 1113.0,740.8 1116.0,740.8 1119.0,740.9 1122.0,741.0 1125.0,741.0 1128.0,741.1 1131.0,741.1 1134.0,741.2 1137.0,741.3 1140.0,741.4 1143.0,741.4 1146.0,741.5 1149.0,741.6 1152.0,741.7 1155.0,741.8 1158.0,741.8 1161.0,741.9 1164.0,742.0 1167.0,742.1 1170.0,742.2 1173.0,742.3 1176.0,742.4 1179.0,742.6 1182.0,742.7 1185.0,742.8 1188.0,742.9 1191.0,743.0 1194.0,743.2 1197.0,743.3 1200.0,743.4 1203.0,743.6 1206.0,743.7 1209.0,743.8 1212.0,744.0 1215.0,744.1 1218.0,744.3 1221.0,744.4 1224.0,744.6 1227.0,744.7 1230.0,744.9 1233.0,745.0 1236.0,745.2 1239.0,745.3 1242.0,745.5 1245.0,745.6 1248.0,745.8 1251.0,745.9 1254.0,746.1 1257.0,746.2 1260.0,746.4 1263.0,746.5 1266.0,746.7 1269.0,746.8 1272.0,746.9 1275.0,747.1 1278.0,747.2 1281.0,747.3 1284.0,747.5 1287.0,747.6 1290.0,747.7 1293.0,747.8 1296.0,747.9 1299.0,748.1 1302.0,748.2 1305.0,748.3 1308.0,748.4 1311.0,748.5 1314.0,748.6 1317.0,748.6 1320.0,748.7 1323.0,748.8 1326.0,748.9 1329.0,749.0 1332.0,749.0 1335.0,749.1 1338.0,749.2 1341.0,749.2 1344.0,749.3 1347.0,749.4 1350.0,749.4 1353.0,749.5 1356.0,749.5 1359.0,749.5 1362.0,749.6 1365.0,749.6 1368.0,749.7 1371.0,749.7 1374.0,749.7 1377.0,749.7 1380.0,749.8 1383.0,749.8 1386.0,749.8 1389.0,749.8 1392.0,749.9 1395.0,749.9 1398.0,749.9 1401.0,749.9 1404.0,749.9 1407.0,749.9 1410.0,749.9 1413.0,749.9 1416.0,749.9 1419.0,749.9 1422.0,750.0 1425.0,750.0 1428.0,750.0 1431.0,750.0 1434.0,750.0 1437.0,750.0 1440.0,750.0 1443.0,750.0 1446.0,750.0 1449.0,750.0 1452.0,750.0 1455.0,750.0 1458.0,750.0 1461.0,750.0 1464.0,750.0 1467.0,750.0 1470.0,750.0 1473.0,750.0 1476.0,750.0 1479.0,750.0 1482.0,750.0 1485.0,750.0 1488.0,750.0 1491.0,750.0 1494.0,750.0 1497.0,750.0 1499.0,750.0" fill="none" stroke="#4cbf66" stroke-width="2.4" stroke-linejoin="round"/>
<polyline points="318.0,731.5 321.0,731.5 324.0,731.5 327.0,731.5 330.0,731.5 333.0,731.5 336.0,731.5 339.0,731.5 342.0,731.5 345.0,731.5 348.0,731.5 351.0,731.5 354.0,731.5 357.0,731.5 360.0,731.5 363.0,731.5 366.0,731.5 369.0,731.5 372.0,731.5 375.0,731.5 378.0,731.5 381.0,731.5 384.0,731.5 387.0,731.5 390.0,731.5 393.0,731.5 396.0,731.6 399.0,731.6 402.0,731.6 405.0,731.6 408.0,731.6 411.0,731.6 414.0,731.6 417.0,731.6 420.0,731.6 423.0,731.6 426.0,731.7 429.0,731.7 432.0,731.7 435.0,731.7 438.0,731.7 441.0,731.7 444.0,731.7 447.0,731.8 450.0,731.8 453.0,731.8 456.0,731.8 459.0,731.8 462.0,731.9 465.0,731.9 468.0,731.9 471.0,731.9 474.0,732.0 477.0,732.0 480.0,732.0 483.0,732.0 486.0,732.1 489.0,732.1 492.0,732.1 495.0,732.2 498.0,732.2 501.0,732.2 504.0,732.3 507.0,732.3 510.0,732.3 513.0,732.3 516.0,732.4 519.0,732.4 522.0,732.5 525.0,732.5 528.0,732.5 531.0,732.6 534.0,732.6 537.0,732.7 540.0,732.7 543.0,732.7 546.0,732.8 549.0,732.8 552.0,732.9 555.0,732.9 558.0,733.0 561.0,733.0 564.0,733.1 567.0,733.2 570.0,733.2 573.0,733.3 576.0,733.3 579.0,733.4 582.0,733.5 585.0,733.5 588.0,733.6 591.0,733.7 594.0,733.8 597.0,733.9 600.0,733.9 603.0,734.0 606.0,734.1 609.0,734.2 612.0,734.3 615.0,734.4 618.0,734.5 621.0,734.6 624.0,734.7 627.0,734.8 630.0,734.9 633.0,735.0 636.0,735.1 639.0,735.2 642.0,735.3 645.0,735.4 648.0,735.5 651.0,735.6 654.0,735.7 657.0,735.9 660.0,736.0 663.0,736.1 666.0,736.2 669.0,736.3 672.0,736.4 675.0,736.5 678.0,736.6 681.0,736.7 684.0,736.8 687.0,736.9 690.0,737.0 693.0,737.1 696.0,737.2 699.0,737.3 702.0,737.3 705.0,737.4 708.0,737.5 711.0,737.6 714.0,737.7 717.0,737.8 720.0,737.8 723.0,737.9 726.0,738.0 729.0,738.0 732.0,738.1 735.0,738.2 738.0,738.2 741.0,738.3 744.0,738.3 747.0,738.4 750.0,738.4 753.0,738.5 756.0,738.5 759.0,738.6 762.0,738.6 765.0,738.7 768.0,738.7 771.0,738.7 774.0,738.8 777.0,738.8 780.0,738.8 783.0,738.9 786.0,738.9 789.0,738.9 792.0,738.9 795.0,738.9 798.0,739.0 801.0,739.0 804.0,739.0 807.0,739.0 810.0,739.0 813.0,739.0 816.0,739.0 819.0,739.0 822.0,739.0 825.0,739.0 828.0,739.0 831.0,739.0 834.0,739.0 837.0,739.0 840.0,739.0 843.0,739.0 846.0,739.0 849.0,739.0 852.0,739.0 855.0,739.0 858.0,739.0 861.0,738.9 864.0,738.9 867.0,738.9 870.0,738.9 873.0,738.8 876.0,738.8 879.0,738.7 882.0,738.7 885.0,738.6 888.0,738.5 891.0,738.4 894.0,738.3 897.0,738.2 900.0,738.1 903.0,738.0 906.0,737.8 909.0,737.7 912.0,737.5 915.0,737.2 918.0,737.0 921.0,736.7 924.0,736.4 927.0,736.1 930.0,735.7 933.0,735.3 936.0,734.9 939.0,734.4 942.0,733.9 945.0,733.3 948.0,732.7 951.0,732.0 954.0,731.3 957.0,730.5 960.0,729.7 963.0,728.8 966.0,727.8 969.0,726.8 972.0,725.8 975.0,724.6 978.0,723.4 981.0,722.2 984.0,720.9 987.0,719.5 990.0,718.1 993.0,716.7 996.0,715.2 999.0,713.6 1002.0,712.0 1005.0,710.4 1008.0,708.8 1011.0,707.1 1014.0,705.5 1017.0,703.8 1020.0,702.2 1023.0,700.6 1026.0,698.9 1029.0,697.4 1032.0,695.9 1035.0,694.4 1038.0,693.0 1041.0,691.6 1044.0,690.4 1047.0,689.2 1050.0,688.2 1053.0,687.2 1056.0,686.4 1059.0,685.7 1062.0,685.1 1065.0,684.6 1068.0,684.3 1071.0,684.1 1074.0,684.1 1077.0,684.2 1080.0,684.5 1083.0,684.9 1086.0,685.4 1089.0,686.1 1092.0,686.8 1095.0,687.8 1098.0,688.8 1101.0,689.9 1104.0,691.2 1107.0,692.5 1110.0,693.9 1113.0,695.4 1116.0,697.0 1119.0,698.6 1122.0,700.2 1125.0,701.9 1128.0,703.6 1131.0,705.4 1134.0,707.1 1137.0,708.8 1140.0,710.6 1143.0,712.3 1146.0,714.0 1149.0,715.7 1152.0,717.3 1155.0,718.9 1158.0,720.5 1161.0,722.0 1164.0,723.5 1167.0,724.9 1170.0,726.2 1173.0,727.5 1176.0,728.8 1179.0,730.0 1182.0,731.1 1185.0,732.2 1188.0,733.2 1191.0,734.2 1194.0,735.1 1197.0,736.0 1200.0,736.8 1203.0,737.5 1206.0,738.2 1209.0,738.9 1212.0,739.5 1215.0,740.1 1218.0,740.7 1221.0,741.2 1224.0,741.7 1227.0,742.1 1230.0,742.5 1233.0,742.9 1236.0,743.3 1239.0,743.6 1242.0,744.0 1245.0,744.3 1248.0,744.6 1251.0,744.8 1254.0,745.1 1257.0,745.3 1260.0,745.6 1263.0,745.8 1266.0,746.0 1269.0,746.2 1272.0,746.4 1275.0,746.6 1278.0,746.7 1281.0,746.9 1284.0,747.1 1287.0,747.2 1290.0,747.4 1293.0,747.5 1296.0,747.6 1299.0,747.8 1302.0,747.9 1305.0,748.0 1308.0,748.1 1311.0,748.2 1314.0,748.3 1317.0,748.4 1320.0,748.5 1323.0,748.6 1326.0,748.7 1329.0,748.8 1332.0,748.9 1335.0,748.9 1338.0,749.0 1341.0,749.1 1344.0,749.1 1347.0,749.2 1350.0,749.2 1353.0,749.3 1356.0,749.3 1359.0,749.4 1362.0,749.4 1365.0,749.5 1368.0,749.5 1371.0,749.5 1374.0,749.6 1377.0,749.6 1380.0,749.6 1383.0,749.7 1386.0,749.7 1389.0,749.7 1392.0,749.7 1395.0,749.7 1398.0,749.8 1401.0,749.8 1404.0,749.8 1407.0,749.8 1410.0,749.8 1413.0,749.8 1416.0,749.8 1419.0,749.8 1422.0,749.8 1425.0,749.9 1428.0,749.9 1431.0,749.9 1434.0,749.9 1437.0,749.9 1440.0,749.9 1443.0,749.9 1446.0,749.9 1449.0,749.9 1452.0,749.9 1455.0,749.9 1458.0,749.9 1461.0,749.9 1464.0,749.9 1467.0,749.9 1470.0,749.9 1473.0,749.9 1476.0,749.9 1479.0,749.9 1482.0,749.9 1485.0,749.9 1488.0,749.9 1491.0,749.9 1494.0,749.9 1497.0,749.9 1499.0,749.9" fill="none" stroke="#4cbf66" stroke-width="2.4" stroke-linejoin="round"/>
<polyline points="318.0,731.5 321.0,731.5 324.0,731.5 327.0,731.5 330.0,731.5 333.0,731.5 336.0,731.5 339.0,731.5 342.0,731.5 345.0,731.5 348.0,731.5 351.0,731.5 354.0,731.5 357.0,731.5 360.0,731.5 363.0,731.5 366.0,731.5 369.0,731.5 372.0,731.5 375.0,731.5 378.0,731.5 381.0,731.6 384.0,731.6 387.0,731.6 390.0,731.6 393.0,731.6 396.0,731.6 399.0,731.6 402.0,731.6 405.0,731.6 408.0,731.6 411.0,731.6 414.0,731.6 417.0,731.6 420.0,731.7 423.0,731.7 426.0,731.7 429.0,731.7 432.0,731.7 435.0,731.7 438.0,731.7 441.0,731.8 444.0,731.8 447.0,731.8 450.0,731.8 453.0,731.8 456.0,731.9 459.0,731.9 462.0,731.9 465.0,731.9 468.0,732.0 471.0,732.0 474.0,732.0 477.0,732.0 480.0,732.1 483.0,732.1 486.0,732.1 489.0,732.1 492.0,732.2 495.0,732.2 498.0,732.2 501.0,732.3 504.0,732.3 507.0,732.3 510.0,732.4 513.0,732.4 516.0,732.4 519.0,732.5 522.0,732.5 525.0,732.5 528.0,732.6 531.0,732.6 534.0,732.7 537.0,732.7 540.0,732.7 543.0,732.8 546.0,732.8 549.0,732.9 552.0,732.9 555.0,733.0 558.0,733.0 561.0,733.1 564.0,733.1 567.0,733.2 570.0,733.3 573.0,733.3 576.0,733.4 579.0,733.5 582.0,733.5 585.0,733.6 588.0,733.7 591.0,733.8 594.0,733.8 597.0,733.9 600.0,734.0 603.0,734.1 606.0,734.2 609.0,734.3 612.0,734.4 615.0,734.5 618.0,734.6 621.0,734.7 624.0,734.8 627.0,734.9 630.0,735.0 633.0,735.1 636.0,735.2 639.0,735.3 642.0,735.4 645.0,735.5 648.0,735.6 651.0,735.7 654.0,735.8 657.0,735.9 660.0,736.0 663.0,736.1 666.0,736.3 669.0,736.4 672.0,736.5 675.0,736.6 678.0,736.7 681.0,736.8 684.0,736.9 687.0,737.0 690.0,737.1 693.0,737.2 696.0,737.3 699.0,737.4 702.0,737.4 705.0,737.5 708.0,737.6 711.0,737.7 714.0,737.8 717.0,737.9 720.0,737.9 723.0,738.0 726.0,738.1 729.0,738.2 732.0,738.2 735.0,738.3 738.0,738.4 741.0,738.4 744.0,738.5 747.0,738.5 750.0,738.6 753.0,738.6 756.0,738.7 759.0,738.7 762.0,738.8 765.0,738.8 768.0,738.8 771.0,738.9 774.0,738.9 777.0,738.9 780.0,739.0 783.0,739.0 786.0,739.0 789.0,739.1 792.0,739.1 795.0,739.1 798.0,739.1 801.0,739.1 804.0,739.2 807.0,739.2 810.0,739.2 813.0,739.2 816.0,739.2 819.0,739.2 822.0,739.2 825.0,739.3 828.0,739.3 831.0,739.3 834.0,739.3 837.0,739.3 840.0,739.3 843.0,739.3 846.0,739.3 849.0,739.3 852.0,739.3 855.0,739.3 858.0,739.3 861.0,739.3 864.0,739.3 867.0,739.3 870.0,739.3 873.0,739.3 876.0,739.3 879.0,739.3 882.0,739.3 885.0,739.3 888.0,739.3 891.0,739.3 894.0,739.3 897.0,739.3 900.0,739.3 903.0,739.4 906.0,739.4 909.0,739.4 912.0,739.4 915.0,739.4 918.0,739.4 921.0,739.4 924.0,739.4 927.0,739.4 930.0,739.4 933.0,739.4 936.0,739.4 939.0,739.4 942.0,739.4 945.0,739.4 948.0,739.4 951.0,739.4 954.0,739.4 957.0,739.4 960.0,739.4 963.0,739.4 966.0,739.4 969.0,739.4 972.0,739.4 975.0,739.4 978.0,739.4 981.0,739.5 984.0,739.5 987.0,739.5 990.0,739.5 993.0,739.5 996.0,739.5 999.0,739.5 1002.0,739.5 1005.0,739.6 1008.0,739.6 1011.0,739.6 1014.0,739.6 1017.0,739.6 1020.0,739.7 1023.0,739.7 1026.0,739.7 1029.0,739.7 1032.0,739.7 1035.0,739.8 1038.0,739.8 1041.0,739.8 1044.0,739.9 1047.0,739.9 1050.0,739.9 1053.0,740.0 1056.0,740.0 1059.0,740.0 1062.0,740.1 1065.0,740.1 1068.0,740.1 1071.0,740.2 1074.0,740.2 1077.0,740.2 1080.0,740.3 1083.0,740.3 1086.0,740.4 1089.0,740.4 1092.0,740.5 1095.0,740.5 1098.0,740.5 1101.0,740.6 1104.0,740.6 1107.0,740.7 1110.0,740.7 1113.0,740.8 1116.0,740.9 1119.0,740.9 1122.0,741.0 1125.0,741.0 1128.0,741.1 1131.0,741.2 1134.0,741.2 1137.0,741.3 1140.0,741.4 1143.0,741.4 1146.0,741.5 1149.0,741.6 1152.0,741.7 1155.0,741.8 1158.0,741.9 1161.0,741.9 1164.0,742.0 1167.0,742.1 1170.0,742.2 1173.0,742.3 1176.0,742.5 1179.0,742.6 1182.0,742.7 1185.0,742.8 1188.0,742.9 1191.0,743.1 1194.0,743.2 1197.0,743.3 1200.0,743.4 1203.0,743.6 1206.0,743.7 1209.0,743.9 1212.0,744.0 1215.0,744.1 1218.0,744.3 1221.0,744.4 1224.0,744.6 1227.0,744.7 1230.0,744.9 1233.0,745.0 1236.0,745.2 1239.0,745.3 1242.0,745.5 1245.0,745.6 1248.0,745.8 1251.0,745.9 1254.0,746.1 1257.0,746.2 1260.0,746.4 1263.0,746.5 1266.0,746.7 1269.0,746.8 1272.0,746.9 1275.0,747.1 1278.0,747.2 1281.0,747.3 1284.0,747.5 1287.0,747.6 1290.0,747.7 1293.0,747.8 1296.0,747.9 1299.0,748.1 1302.0,748.2 1305.0,748.3 1308.0,748.4 1311.0,748.5 1314.0,748.6 1317.0,748.7 1320.0,748.7 1323.0,748.8 1326.0,748.9 1329.0,749.0 1332.0,749.1 1335.0,749.1 1338.0,749.2 1341.0,749.3 1344.0,749.3 1347.0,749.4 1350.0,749.4 1353.0,749.5 1356.0,749.5 1359.0,749.6 1362.0,749.6 1365.0,749.6 1368.0,749.7 1371.0,749.7 1374.0,749.7 1377.0,749.8 1380.0,749.8 1383.0,749.8 1386.0,749.8 1389.0,749.8 1392.0,749.9 1395.0,749.9 1398.0,749.9 1401.0,749.9 1404.0,749.9 1407.0,749.9 1410.0,749.9 1413.0,749.9 1416.0,749.9 1419.0,750.0 1422.0,750.0 1425.0,750.0 1428.0,750.0 1431.0,750.0 1434.0,750.0 1437.0,750.0 1440.0,750.0 1443.0,750.0 1446.0,750.0 1449.0,750.0 1452.0,750.0 1455.0,750.0 1458.0,750.0 1461.0,750.0 1464.0,750.0 1467.0,750.0 1470.0,750.0 1473.0,750.0 1476.0,750.0 1479.0,750.0 1482.0,750.0 1485.0,750.0 1488.0,750.0 1491.0,750.0 1494.0,750.0 1497.0,750.0 1499.0,750.0" fill="none" stroke="#2f6e35" stroke-width="2.6" stroke-linejoin="round"/>
<polyline points="318.0,730.1 321.0,730.0 324.0,729.8 327.0,729.6 330.0,729.5 333.0,729.2 336.0,729.0 339.0,728.8 342.0,728.5 345.0,728.2 348.0,727.9 351.0,727.5 354.0,727.1 357.0,726.7 360.0,726.2 363.0,725.7 366.0,725.2 369.0,724.7 372.0,724.0 375.0,723.4 378.0,722.7 381.0,722.0 384.0,721.2 387.0,720.4 390.0,719.5 393.0,718.6 396.0,717.7 399.0,716.7 402.0,715.7 405.0,714.6 408.0,713.5 411.0,712.4 414.0,711.2 417.0,710.0 420.0,708.8 423.0,707.6 426.0,706.3 429.0,705.0 432.0,703.7 435.0,702.4 438.0,701.0 441.0,699.7 444.0,698.3 447.0,697.0 450.0,695.7 453.0,694.3 456.0,693.0 459.0,691.7 462.0,690.4 465.0,689.1 468.0,687.8 471.0,686.6 474.0,685.3 477.0,684.1 480.0,682.8 483.0,681.6 486.0,680.4 489.0,679.1 492.0,677.9 495.0,676.6 498.0,675.4 501.0,674.1 504.0,672.8 507.0,671.5 510.0,670.2 513.0,668.8 516.0,667.4 519.0,665.9 522.0,664.3 525.0,662.6 528.0,660.8 531.0,658.9 534.0,656.8 537.0,654.7 540.0,652.3 543.0,649.8 546.0,647.1 549.0,644.3 552.0,641.3 555.0,638.2 558.0,634.8 561.0,631.4 564.0,627.7 567.0,623.9 570.0,620.0 573.0,616.0 576.0,611.9 579.0,607.7 582.0,603.4 585.0,599.0 588.0,594.7 591.0,590.3 594.0,586.0 597.0,581.7 600.0,577.5 603.0,573.4 606.0,569.3 609.0,565.5 612.0,561.8 615.0,558.2 618.0,554.9 621.0,551.8 624.0,549.0 627.0,546.3 630.0,544.0 633.0,541.9 636.0,540.1 639.0,538.6 642.0,537.4 645.0,536.5 648.0,535.9 651.0,535.8 654.0,535.9 657.0,536.4 660.0,537.3 663.0,538.4 666.0,539.9 669.0,541.7 672.0,543.7 675.0,545.9 678.0,548.4 681.0,551.1 684.0,554.0 687.0,557.1 690.0,560.3 693.0,563.7 696.0,567.2 699.0,570.9 702.0,574.6 705.0,578.5 708.0,582.5 711.0,586.6 714.0,590.8 717.0,595.1 720.0,599.4 723.0,603.9 726.0,608.4 729.0,613.0 732.0,617.7 735.0,622.3 738.0,626.9 741.0,631.5 744.0,636.0 747.0,640.5 750.0,644.9 753.0,649.2 756.0,653.4 759.0,657.6 762.0,661.7 765.0,665.7 768.0,669.6 771.0,673.4 774.0,677.1 777.0,680.7 780.0,684.2 783.0,687.5 786.0,690.8 789.0,693.9 792.0,696.9 795.0,699.8 798.0,702.5 801.0,705.2 804.0,707.7 807.0,710.0 810.0,712.3 813.0,714.4 816.0,716.4 819.0,718.3 822.0,720.1 825.0,721.7 828.0,723.2 831.0,724.7 834.0,726.0 837.0,727.2 840.0,728.3 843.0,729.4 846.0,730.3 849.0,731.2 852.0,732.0 855.0,732.7 858.0,733.3 861.0,733.9 864.0,734.4 867.0,734.8 870.0,735.2 873.0,735.6 876.0,735.9 879.0,736.1 882.0,736.4 885.0,736.5 888.0,736.7 891.0,736.8 894.0,736.8 897.0,736.9 900.0,736.9 903.0,736.9 906.0,736.8 909.0,736.7 912.0,736.6 915.0,736.4 918.0,736.3 921.0,736.0 924.0,735.8 927.0,735.5 930.0,735.1 933.0,734.8 936.0,734.4 939.0,733.9 942.0,733.4 945.0,732.8 948.0,732.2 951.0,731.6 954.0,730.8 957.0,730.1 960.0,729.2 963.0,728.3 966.0,727.4 969.0,726.4 972.0,725.3 975.0,724.1 978.0,722.9 981.0,721.7 984.0,720.3 987.0,718.9 990.0,717.5 993.0,716.0 996.0,714.4 999.0,712.8 1002.0,711.1 1005.0,709.4 1008.0,707.7 1011.0,705.9 1014.0,704.1 1017.0,702.3 1020.0,700.4 1023.0,698.6 1026.0,696.7 1029.0,694.9 1032.0,693.0 1035.0,691.1 1038.0,689.3 1041.0,687.5 1044.0,685.7 1047.0,683.9 1050.0,682.1 1053.0,680.4 1056.0,678.7 1059.0,677.0 1062.0,675.3 1065.0,673.7 1068.0,672.0 1071.0,670.4 1074.0,668.8 1077.0,667.1 1080.0,665.4 1083.0,663.7 1086.0,662.0 1089.0,660.2 1092.0,658.3 1095.0,656.3 1098.0,654.3 1101.0,652.1 1104.0,649.8 1107.0,647.3 1110.0,644.7 1113.0,641.9 1116.0,638.9 1119.0,635.7 1122.0,632.3 1125.0,628.7 1128.0,624.9 1131.0,620.9 1134.0,616.6 1137.0,612.2 1140.0,607.5 1143.0,602.6 1146.0,597.5 1149.0,592.3 1152.0,586.9 1155.0,581.3 1158.0,575.6 1161.0,569.8 1164.0,563.9 1167.0,557.9 1170.0,552.0 1173.0,546.0 1176.0,540.0 1179.0,534.1 1182.0,528.3 1185.0,522.6 1188.0,517.1 1191.0,511.7 1194.0,506.5 1197.0,501.6 1200.0,496.9 1203.0,492.5 1206.0,488.4 1209.0,484.7 1212.0,481.2 1215.0,478.2 1218.0,475.5 1221.0,473.2 1224.0,471.3 1227.0,469.8 1230.0,468.8 1233.0,468.2 1236.0,468.1 1239.0,468.4 1242.0,469.1 1245.0,470.3 1248.0,471.9 1251.0,473.9 1254.0,476.2 1257.0,479.0 1260.0,482.1 1263.0,485.6 1266.0,489.3 1269.0,493.4 1272.0,497.8 1275.0,502.4 1278.0,507.3 1281.0,512.4 1284.0,517.7 1287.0,523.3 1290.0,529.0 1293.0,534.9 1296.0,540.9 1299.0,547.1 1302.0,553.4 1305.0,559.8 1308.0,566.2 1311.0,572.8 1314.0,579.4 1317.0,586.1 1320.0,592.8 1323.0,599.5 1326.0,606.2 1329.0,612.8 1332.0,619.4 1335.0,626.0 1338.0,632.4 1341.0,638.8 1344.0,645.0 1347.0,651.1 1350.0,657.1 1353.0,662.9 1356.0,668.5 1359.0,674.0 1362.0,679.2 1365.0,684.3 1368.0,689.1 1371.0,693.8 1374.0,698.2 1377.0,702.3 1380.0,706.3 1383.0,710.0 1386.0,713.5 1389.0,716.8 1392.0,719.9 1395.0,722.7 1398.0,725.4 1401.0,727.8 1404.0,730.1 1407.0,732.2 1410.0,734.1 1413.0,735.8 1416.0,737.4 1419.0,738.8 1422.0,740.1 1425.0,741.2 1428.0,742.3 1431.0,743.2 1434.0,744.0 1437.0,744.8 1440.0,745.4 1443.0,746.0 1446.0,746.5 1449.0,746.9 1452.0,747.3 1455.0,747.7 1458.0,748.0 1461.0,748.2 1464.0,748.4 1467.0,748.6 1470.0,748.8 1473.0,748.9 1476.0,749.0 1479.0,749.1 1482.0,749.2 1485.0,749.3 1488.0,749.4 1491.0,749.4 1494.0,749.5 1497.0,749.5 1499.0,749.5" fill="none" stroke="#2bb2bb" stroke-width="2.7" stroke-linejoin="round"/>
<polyline points="253.0,1978.6 255.0,1985.5 257.0,1986.4 259.0,1983.3 261.0,1978.0 263.0,1972.4 265.0,1968.3 267.0,1967.6 269.0,1972.1 271.0,1983.0 273.0,1995.2 275.0,2001.4 277.0,2000.4 279.0,1994.4 281.0,1986.1 283.0,1978.0 285.0,1971.8 287.0,1968.2 289.0,1967.1 291.0,1968.1 293.0,1970.7 295.0,1974.0 297.0,1977.1 299.0,1979.0 301.0,1980.5 303.0,1980.6 305.0,1979.6 307.0,1977.3 309.0,1974.2 311.0,1970.3 313.0,1965.9 315.0,1961.5 317.0,1957.6 319.0,1955.0 321.0,1954.4 323.0,1956.4 325.0,1960.5 327.0,1966.3 329.0,1973.2 331.0,1979.6 333.0,1983.1 335.0,1980.9 337.0,1973.8 339.0,1965.2 341.0,1958.6 343.0,1957.8 345.0,1964.3 347.0,1974.5 349.0,1984.1 351.0,1988.6 353.0,1984.7 355.0,1975.4 357.0,1966.4 359.0,1962.9 361.0,1965.0 363.0,1969.5 365.0,1973.2 367.0,1973.1 369.0,1968.6 371.0,1962.4 373.0,1957.5 375.0,1956.8 377.0,1962.1 379.0,1969.5 381.0,1973.5 383.0,1969.5 385.0,1960.3 387.0,1951.4 389.0,1947.8 391.0,1949.8 393.0,1955.0 395.0,1961.0 397.0,1966.5 399.0,1971.2 401.0,1975.0 403.0,1977.5 405.0,1978.8 407.0,1979.0 409.0,1978.1 411.0,1976.2 413.0,1973.5 415.0,1969.7 417.0,1964.8 419.0,1958.6 421.0,1951.1 423.0,1943.5 425.0,1937.7 427.0,1935.9 429.0,1938.8 431.0,1943.6 433.0,1947.1 435.0,1947.9 437.0,1946.7 439.0,1944.6 441.0,1942.8 443.0,1942.2 445.0,1943.0 447.0,1943.4 449.0,1941.8 451.0,1938.0 453.0,1933.5 455.0,1929.7 457.0,1928.1 459.0,1928.8 461.0,1929.9 463.0,1929.5 465.0,1928.1 467.0,1927.0 469.0,1927.5 471.0,1930.2 473.0,1933.9 475.0,1936.9 477.0,1937.5 479.0,1934.8 481.0,1929.6 483.0,1922.7 485.0,1915.0 487.0,1907.6 489.0,1901.4 491.0,1897.8 493.0,1898.6 495.0,1905.1 497.0,1915.3 499.0,1924.6 501.0,1928.2 503.0,1921.5 505.0,1905.6 507.0,1888.1 509.0,1877.1 511.0,1876.9 513.0,1883.4 515.0,1891.0 517.0,1895.2 519.0,1896.4 521.0,1896.6 523.0,1897.8 525.0,1901.2 527.0,1905.3 529.0,1907.7 531.0,1906.0 533.0,1898.6 535.0,1887.5 537.0,1875.3 539.0,1864.7 541.0,1858.2 543.0,1855.4 545.0,1854.2 547.0,1852.7 549.0,1850.8 551.0,1849.5 553.0,1849.3 555.0,1851.1 557.0,1854.6 559.0,1856.6 561.0,1853.0 563.0,1841.3 565.0,1824.7 567.0,1807.7 569.0,1795.1 571.0,1791.1 573.0,1794.0 575.0,1799.2 577.0,1802.4 579.0,1801.2 581.0,1794.9 583.0,1782.3 585.0,1762.7 587.0,1738.8 589.0,1716.5 591.0,1701.3 593.0,1694.1 595.0,1692.2 597.0,1692.7 599.0,1692.8 601.0,1691.6 603.0,1690.5 605.0,1691.1 607.0,1693.1 609.0,1693.8 611.0,1690.4 613.0,1680.7 615.0,1667.8 617.0,1656.2 619.0,1650.7 621.0,1653.1 623.0,1660.0 625.0,1667.4 627.0,1671.1 629.0,1667.2 631.0,1653.3 633.0,1634.4 635.0,1616.9 637.0,1606.4 639.0,1602.7 641.0,1603.5 643.0,1606.1 645.0,1608.0 647.0,1607.7 649.0,1605.9 651.0,1603.9 653.0,1603.2 655.0,1603.0 657.0,1600.8 659.0,1594.6 661.0,1584.7 663.0,1573.4 665.0,1562.8 667.0,1554.9 669.0,1551.6 671.0,1552.2 673.0,1554.4 675.0,1555.8 677.0,1555.7 679.0,1553.7 681.0,1549.5 683.0,1542.9 685.0,1536.2 687.0,1532.8 689.0,1536.0 691.0,1544.2 693.0,1553.5 695.0,1560.0 697.0,1562.3 699.0,1562.2 701.0,1562.0 703.0,1563.3 705.0,1566.0 707.0,1568.7 709.0,1570.1 711.0,1569.1 713.0,1565.7 715.0,1560.4 717.0,1553.3 719.0,1545.0 721.0,1536.6 723.0,1531.4 725.0,1532.3 727.0,1538.2 729.0,1545.2 731.0,1549.3 733.0,1548.0 735.0,1543.4 737.0,1538.6 739.0,1536.6 741.0,1540.5 743.0,1553.1 745.0,1571.0 747.0,1584.6 749.0,1589.6 751.0,1588.9 753.0,1585.5 755.0,1582.6 757.0,1582.9 759.0,1586.7 761.0,1593.4 763.0,1602.6 765.0,1613.1 767.0,1622.8 769.0,1629.1 771.0,1629.6 773.0,1622.8 775.0,1612.5 777.0,1603.4 779.0,1600.1 781.0,1604.3 783.0,1614.2 785.0,1627.9 787.0,1643.7 789.0,1659.8 791.0,1675.1 793.0,1688.9 795.0,1700.6 797.0,1709.8 799.0,1716.6 801.0,1721.2 803.0,1724.1 805.0,1727.3 807.0,1732.9 809.0,1743.0 811.0,1757.8 813.0,1773.2 815.0,1785.0 817.0,1789.6 819.0,1788.7 821.0,1786.6 823.0,1787.8 825.0,1796.3 827.0,1814.1 829.0,1833.6 831.0,1845.8 833.0,1850.9 835.0,1852.2 837.0,1853.0 839.0,1856.5 841.0,1864.3 843.0,1874.3 845.0,1883.4 847.0,1888.7 849.0,1891.1 851.0,1893.8 853.0,1899.2 855.0,1906.7 857.0,1915.2 859.0,1923.7 861.0,1931.2 863.0,1937.3 865.0,1942.3 867.0,1946.2 869.0,1949.1 871.0,1951.2 873.0,1952.7 875.0,1953.8 877.0,1954.9 879.0,1956.2 881.0,1957.7 883.0,1959.1 885.0,1960.7 887.0,1962.2 889.0,1963.8 891.0,1965.3 893.0,1966.5 895.0,1966.8 897.0,1965.7 899.0,1963.5 901.0,1961.0 903.0,1959.1 905.0,1958.4 907.0,1959.7 909.0,1963.5 911.0,1968.9 913.0,1974.5 915.0,1979.4 917.0,1982.7 919.0,1983.5 921.0,1981.6 923.0,1978.4 925.0,1975.2 927.0,1973.3 929.0,1974.2 931.0,1979.1 933.0,1986.5 935.0,1991.1 937.0,1988.8 939.0,1981.4 941.0,1973.4 943.0,1969.0 945.0,1969.8 947.0,1974.3 949.0,1980.4 951.0,1986.8 953.0,1992.3 955.0,1996.0 957.0,1996.9 959.0,1994.2 961.0,1988.5 963.0,1981.0 965.0,1973.2 967.0,1966.5 969.0,1962.5 971.0,1963.0 973.0,1969.8 975.0,1983.5 977.0,1998.2 979.0,2006.5 981.0,2005.3 983.0,1997.8 985.0,1987.8 987.0,1979.1 989.0,1974.1 991.0,1972.3 993.0,1973.1 995.0,1975.9 997.0,1979.6 999.0,1983.3 1001.0,1985.6 1003.0,1985.4 1005.0,1982.2 1007.0,1977.5 1009.0,1973.2 1011.0,1970.9 1013.0,1970.3 1015.0,1969.9 1017.0,1968.3 1019.0,1963.8 1021.0,1956.3 1023.0,1948.7 1025.0,1944.2 1027.0,1944.0 1029.0,1946.1 1031.0,1947.7 1033.0,1946.2 1035.0,1938.8 1037.0,1924.8 1039.0,1910.4 1041.0,1902.9 1043.0,1909.9 1045.0,1930.2 1047.0,1944.1 1049.0,1943.1 1051.0,1933.1 1053.0,1920.7 1055.0,1912.4 1057.0,1910.8 1059.0,1913.5 1061.0,1917.6 1063.0,1920.3 1065.0,1919.0 1067.0,1915.2 1069.0,1911.4 1071.0,1910.2 1073.0,1913.9 1075.0,1920.9 1077.0,1926.8 1079.0,1929.6 1081.0,1929.7 1083.0,1927.7 1085.0,1924.2 1087.0,1919.6 1089.0,1914.1 1091.0,1908.0 1093.0,1901.4 1095.0,1894.4 1097.0,1887.2 1099.0,1879.8 1101.0,1872.2 1103.0,1864.5 1105.0,1857.3 1107.0,1851.3 1109.0,1847.2 1111.0,1845.6 1113.0,1845.8 1115.0,1846.0 1117.0,1844.4 1119.0,1839.5 1121.0,1833.4 1123.0,1829.1 1125.0,1829.5 1127.0,1833.8 1129.0,1835.6 1131.0,1830.7 1133.0,1820.3 1135.0,1806.3 1137.0,1790.7 1139.0,1775.5 1141.0,1762.7 1143.0,1753.9 1145.0,1749.8 1147.0,1751.2 1149.0,1755.7 1151.0,1757.8 1153.0,1752.9 1155.0,1742.6 1157.0,1730.4 1159.0,1719.8 1161.0,1714.0 1163.0,1711.6 1165.0,1709.2 1167.0,1703.5 1169.0,1690.9 1171.0,1670.8 1173.0,1648.2 1175.0,1629.2 1177.0,1618.4 1179.0,1614.2 1181.0,1613.3 1183.0,1612.5 1185.0,1609.3 1187.0,1603.7 1189.0,1596.3 1191.0,1587.5 1193.0,1577.9 1195.0,1567.9 1197.0,1557.9 1199.0,1548.4 1201.0,1539.9 1203.0,1532.3 1205.0,1525.9 1207.0,1520.7 1209.0,1516.6 1211.0,1513.7 1213.0,1512.0 1215.0,1511.4 1217.0,1511.5 1219.0,1511.0 1221.0,1508.8 1223.0,1504.7 1225.0,1499.6 1227.0,1494.4 1229.0,1490.3 1231.0,1488.1 1233.0,1487.6 1235.0,1487.1 1237.0,1484.8 1239.0,1479.3 1241.0,1470.0 1243.0,1456.1 1245.0,1437.0 1247.0,1414.1 1249.0,1399.3 1251.0,1400.4 1253.0,1413.0 1255.0,1430.9 1257.0,1448.2 1259.0,1458.9 1261.0,1457.4 1263.0,1445.6 1265.0,1430.1 1267.0,1417.4 1269.0,1410.5 1271.0,1409.0 1273.0,1412.9 1275.0,1421.8 1277.0,1432.6 1279.0,1439.6 1281.0,1438.3 1283.0,1431.2 1285.0,1422.9 1287.0,1418.1 1289.0,1421.1 1291.0,1431.3 1293.0,1440.9 1295.0,1441.9 1297.0,1431.2 1299.0,1416.4 1301.0,1406.3 1303.0,1408.3 1305.0,1419.6 1307.0,1434.3 1309.0,1446.5 1311.0,1453.2 1313.0,1455.4 1315.0,1454.3 1317.0,1451.2 1319.0,1447.4 1321.0,1444.3 1323.0,1443.0 1325.0,1444.9 1327.0,1451.3 1329.0,1462.2 1331.0,1475.6 1333.0,1489.6 1335.0,1502.8 1337.0,1514.4 1339.0,1523.4 1341.0,1529.2 1343.0,1532.0 1345.0,1532.5 1347.0,1531.7 1349.0,1530.2 1351.0,1529.3 1353.0,1530.4 1355.0,1534.9 1357.0,1544.3 1359.0,1558.8 1361.0,1573.8 1363.0,1584.8 1365.0,1591.9 1367.0,1597.3 1369.0,1603.1 1371.0,1611.1 1373.0,1623.4 1375.0,1640.0 1377.0,1657.3 1379.0,1671.1 1381.0,1677.5 1383.0,1677.6 1385.0,1677.3 1387.0,1680.2 1389.0,1686.6 1391.0,1695.9 1393.0,1708.1 1395.0,1722.7 1397.0,1737.4 1399.0,1748.9 1401.0,1754.2 1403.0,1754.3 1405.0,1753.6 1407.0,1756.4 1409.0,1767.0 1411.0,1786.9 1413.0,1809.8 1415.0,1828.0 1417.0,1840.2 1419.0,1848.8 1421.0,1856.3 1423.0,1864.9 1425.0,1876.0 1427.0,1887.3 1429.0,1896.2 1431.0,1900.2 1433.0,1897.9 1435.0,1892.7 1437.0,1888.6 1439.0,1889.7 1441.0,1897.5 1443.0,1908.9 1445.0,1920.1 1447.0,1927.5 1449.0,1929.9 1451.0,1929.9 1453.0,1930.1 1455.0,1933.5 1457.0,1940.8 1459.0,1948.0 1461.0,1951.1 1463.0,1950.7 1465.0,1949.0 1467.0,1948.3 1469.0,1949.9 1471.0,1953.5 1473.0,1958.7 1475.0,1965.2 1477.0,1972.4 1479.0,1979.8 1481.0,1986.6 1483.0,1992.1 1485.0,1995.8 1487.0,1997.5 1489.0,1997.6 1491.0,1996.1 1493.0,1993.2 1495.0,1989.8 1497.0,1987.9 1499.0,1990.0 1501.0,1997.2 1503.0,2006.7 1505.0,2014.7 1507.0,2017.7 1509.0,2014.1 1511.0,2006.8 1513.0,1999.0 1515.0,1994.2 1517.0,1994.4 1519.0,1997.2 1521.0,1999.2 1523.0,1999.9 1525.0,2000.5 1527.0,2002.1 1529.0,2005.4 1531.0,2009.4 1533.0,2013.0 1535.0,2014.8 1537.0,2014.2 1539.0,2012.3 1541.0,2010.8 1543.0,2011.7 1545.0,2015.1 1547.0,2019.5 1549.0,2023.3 1551.0,2025.1 1553.0,2023.6 1555.0,2020.1 1557.0,2016.4 1559.0,2014.4 1561.0,2015.7 1563.0,2019.3 1565.0,2021.5 1567.0,2020.9 1569.0,2018.7 1571.0,2016.3 1573.0,2014.7 1575.0,2015.1 1577.0,2016.8 1579.0,2018.8 1581.0,2020.1 1583.0,2020.0 1585.0,2018.3 1587.0,2015.1 1589.0,2010.8 1591.0,2006.2 1593.0,2002.5 1595.0,2001.4 1597.0,2004.1 1599.0,2011.5 1601.0,2020.7 1603.0,2027.1 1605.0,2026.4 1607.0,2018.9 1609.0,2010.0 1611.0,2005.6 1613.0,2011.1 1615.0,2025.3 1617.0,2038.0 1619.0,2043.4 1621.0,2043.0 1623.0,2038.9 1625.0,2032.9 1627.0,2026.5 1629.0,2020.9 1631.0,2017.1 1633.0,2015.7 1635.0,2016.0 1637.0,2017.0 1639.0,2017.7 1641.0,2017.0 1643.0,2014.0 1645.0,2009.7 1647.0,2006.8 1649.0,2008.3 1651.0,2016.8 1653.0,2029.3 1655.0,2036.8" fill="none" stroke="#747474" stroke-width="1.6" stroke-linejoin="round"/>
<polyline points="292.0,1980.0 295.0,1980.0 298.0,1980.0 301.0,1980.0 304.0,1980.0 307.0,1980.0 310.0,1980.0 313.0,1980.0 316.0,1980.0 319.0,1980.0 322.0,1980.0 325.0,1980.0 328.0,1980.0 331.0,1980.0 334.0,1980.0 337.0,1980.0 340.0,1980.0 343.0,1980.0 346.0,1980.0 349.0,1980.0 352.0,1980.0 355.0,1980.0 358.0,1980.0 361.0,1980.0 364.0,1980.0 367.0,1980.0 370.0,1980.0 373.0,1980.0 376.0,1980.0 379.0,1980.0 382.0,1980.0 385.0,1980.0 388.0,1980.0 391.0,1980.0 394.0,1980.0 397.0,1980.0 400.0,1980.0 403.0,1980.0 406.0,1980.0 409.0,1980.0 412.0,1980.0 415.0,1979.9 418.0,1979.9 421.0,1979.9 424.0,1979.8 427.0,1979.8 430.0,1979.7 433.0,1979.6 436.0,1979.5 439.0,1979.4 442.0,1979.2 445.0,1979.1 448.0,1978.9 451.0,1978.6 454.0,1978.4 457.0,1978.1 460.0,1977.7 463.0,1977.3 466.0,1976.8 469.0,1976.3 472.0,1975.7 475.0,1975.0 478.0,1974.2 481.0,1973.3 484.0,1972.2 487.0,1971.1 490.0,1969.8 493.0,1968.4 496.0,1966.8 499.0,1965.0 502.0,1963.0 505.0,1960.9 508.0,1958.5 511.0,1955.9 514.0,1953.0 517.0,1949.9 520.0,1946.5 523.0,1942.8 526.0,1938.8 529.0,1934.5 532.0,1929.8 535.0,1924.9 538.0,1919.6 541.0,1914.0 544.0,1908.0 547.0,1901.7 550.0,1895.0 553.0,1888.0 556.0,1880.7 559.0,1873.0 562.0,1865.1 565.0,1856.9 568.0,1848.4 571.0,1839.7 574.0,1830.8 577.0,1821.7 580.0,1812.4 583.0,1803.1 586.0,1793.7 589.0,1784.3 592.0,1774.9 595.0,1765.6 598.0,1756.5 601.0,1747.5 604.0,1738.7 607.0,1730.3 610.0,1722.2 613.0,1714.4 616.0,1707.1 619.0,1700.4 622.0,1694.1 625.0,1688.4 628.0,1683.4 631.0,1679.0 634.0,1675.3 637.0,1672.3 640.0,1670.0 643.0,1668.6 646.0,1667.8 649.0,1667.9 652.0,1668.7 655.0,1670.4 658.0,1672.7 661.0,1675.8 664.0,1679.7 667.0,1684.2 670.0,1689.4 673.0,1695.3 676.0,1701.7 679.0,1708.7 682.0,1716.2 685.0,1724.1 688.0,1732.5 691.0,1741.2 694.0,1750.2 697.0,1759.4 700.0,1768.9 703.0,1778.5 706.0,1788.2 709.0,1797.9 712.0,1807.6 715.0,1817.3 718.0,1826.9 721.0,1836.3 724.0,1845.6 727.0,1854.7 730.0,1863.6 733.0,1872.2 736.0,1880.5 739.0,1888.5 742.0,1896.2 745.0,1903.6 748.0,1910.6 751.0,1917.3 754.0,1923.6 757.0,1929.6 760.0,1935.3 763.0,1940.6 766.0,1945.6 769.0,1950.2 772.0,1954.6 775.0,1958.6 778.0,1962.3 781.0,1965.7 784.0,1968.9 787.0,1971.8 790.0,1974.4 793.0,1976.9 796.0,1979.1 799.0,1981.1 802.0,1982.9 805.0,1984.6 808.0,1986.0 811.0,1987.4 814.0,1988.6 817.0,1989.7 820.0,1990.6 823.0,1991.5 826.0,1992.2 829.0,1992.9 832.0,1993.5 835.0,1994.0 838.0,1994.5 841.0,1994.9 844.0,1995.3 847.0,1995.6 850.0,1995.9 853.0,1996.1 856.0,1996.3 859.0,1996.5 862.0,1996.7 865.0,1996.8 868.0,1996.9 871.0,1997.0 874.0,1997.1 877.0,1997.2 880.0,1997.2 883.0,1997.3 886.0,1997.4 889.0,1997.4 892.0,1997.4 895.0,1997.5 898.0,1997.5 901.0,1997.5 904.0,1997.5 907.0,1997.5 910.0,1997.6 913.0,1997.6 916.0,1997.6 919.0,1997.6 922.0,1997.6 925.0,1997.6 928.0,1997.6 931.0,1997.6 934.0,1997.6 937.0,1997.6 940.0,1997.6 943.0,1997.6 946.0,1997.6 949.0,1997.7 952.0,1997.7 955.0,1997.7 958.0,1997.7 961.0,1997.7 964.0,1997.7 967.0,1997.7 970.0,1997.7 973.0,1997.7 976.0,1997.7 979.0,1997.7 982.0,1997.7 985.0,1997.7 988.0,1997.7 991.0,1997.7 994.0,1997.8 997.0,1997.8 1000.0,1997.8 1003.0,1997.8 1006.0,1997.8 1009.0,1997.8 1012.0,1997.8 1015.0,1997.8 1018.0,1997.9 1021.0,1997.9 1024.0,1997.9 1027.0,1997.9 1030.0,1997.9 1033.0,1998.0 1036.0,1998.0 1039.0,1998.0 1042.0,1998.0 1045.0,1998.1 1048.0,1998.1 1051.0,1998.1 1054.0,1998.2 1057.0,1998.2 1060.0,1998.2 1063.0,1998.3 1066.0,1998.3 1069.0,1998.3 1072.0,1998.4 1075.0,1998.4 1078.0,1998.4 1081.0,1998.5 1084.0,1998.5 1087.0,1998.6 1090.0,1998.6 1093.0,1998.7 1096.0,1998.7 1099.0,1998.8 1102.0,1998.8 1105.0,1998.9 1108.0,1998.9 1111.0,1999.0 1114.0,1999.1 1117.0,1999.1 1120.0,1999.2 1123.0,1999.3 1126.0,1999.4 1129.0,1999.4 1132.0,1999.5 1135.0,1999.6 1138.0,1999.7 1141.0,1999.8 1144.0,1999.9 1147.0,2000.0 1150.0,2000.1 1153.0,2000.3 1156.0,2000.4 1159.0,2000.5 1162.0,2000.6 1165.0,2000.8 1168.0,2000.9 1171.0,2001.1 1174.0,2001.3 1177.0,2001.4 1180.0,2001.6 1183.0,2001.8 1186.0,2002.0 1189.0,2002.2 1192.0,2002.4 1195.0,2002.6 1198.0,2002.8 1201.0,2003.0 1204.0,2003.2 1207.0,2003.5 1210.0,2003.7 1213.0,2003.9 1216.0,2004.2 1219.0,2004.4 1222.0,2004.7 1225.0,2004.9 1228.0,2005.2 1231.0,2005.4 1234.0,2005.7 1237.0,2006.0 1240.0,2006.2 1243.0,2006.5 1246.0,2006.8 1249.0,2007.0 1252.0,2007.3 1255.0,2007.6 1258.0,2007.9 1261.0,2008.1 1264.0,2008.4 1267.0,2008.7 1270.0,2009.0 1273.0,2009.3 1276.0,2009.6 1279.0,2009.8 1282.0,2010.1 1285.0,2010.4 1288.0,2010.7 1291.0,2011.0 1294.0,2011.3 1297.0,2011.6 1300.0,2011.8 1303.0,2012.1 1306.0,2012.4 1309.0,2012.7 1312.0,2013.0 1315.0,2013.2 1318.0,2013.5 1321.0,2013.8 1324.0,2014.1 1327.0,2014.3 1330.0,2014.6 1333.0,2014.9 1336.0,2015.1 1339.0,2015.4 1342.0,2015.6 1345.0,2015.9 1348.0,2016.1 1351.0,2016.3 1354.0,2016.6 1357.0,2016.8 1360.0,2017.0 1363.0,2017.2 1366.0,2017.4 1369.0,2017.6 1372.0,2017.8 1375.0,2018.0 1378.0,2018.2 1381.0,2018.4 1384.0,2018.5 1387.0,2018.7 1390.0,2018.9 1393.0,2019.0 1396.0,2019.1 1399.0,2019.3 1402.0,2019.4 1405.0,2019.5 1408.0,2019.6 1411.0,2019.7 1414.0,2019.8 1417.0,2019.9 1420.0,2020.0 1423.0,2020.1 1426.0,2020.2 1429.0,2020.3 1432.0,2020.3 1435.0,2020.4 1438.0,2020.4 1441.0,2020.5 1444.0,2020.5 1447.0,2020.6 1450.0,2020.6 1453.0,2020.7 1456.0,2020.7 1459.0,2020.7 1462.0,2020.8 1465.0,2020.8 1468.0,2020.8 1471.0,2020.8 1474.0,2020.8 1477.0,2020.9 1480.0,2020.9 1483.0,2020.9 1486.0,2020.9 1489.0,2020.9 1492.0,2020.9 1495.0,2020.9 1498.0,2020.9 1501.0,2021.0 1504.0,2021.0 1507.0,2021.0 1510.0,2021.0 1513.0,2021.0 1516.0,2021.0 1519.0,2021.0 1522.0,2021.0 1525.0,2021.0 1528.0,2021.0 1531.0,2021.0 1534.0,2021.0 1537.0,2021.0 1540.0,2021.0 1543.0,2021.0 1546.0,2021.0 1549.0,2021.0 1552.0,2021.0 1555.0,2021.0 1558.0,2021.0 1561.0,2021.0 1564.0,2021.0 1567.0,2021.0 1570.0,2021.0 1573.0,2021.0 1576.0,2021.0 1579.0,2021.0 1582.0,2021.0 1585.0,2021.0 1588.0,2021.0 1591.0,2021.0 1594.0,2021.0 1597.0,2021.0 1600.0,2021.0 1603.0,2021.0 1606.0,2021.0 1609.0,2021.0 1612.0,2021.0 1615.0,2021.0 1618.0,2021.0 1621.0,2021.0 1624.0,2021.0 1627.0,2021.0 1630.0,2021.0 1633.0,2021.0 1636.0,2021.0 1639.0,2021.0 1642.0,2021.0 1645.0,2021.0 1648.0,2021.0 1651.0,2021.0 1654.0,2021.0 1657.0,2021.0 1657.0,2021.0" fill="none" stroke="#c487f2" stroke-width="2.4" stroke-linejoin="round"/>
<polyline points="292.0,1980.0 295.0,1980.0 298.0,1980.0 301.0,1980.0 304.0,1980.0 307.0,1980.0 310.0,1980.0 313.0,1980.0 316.0,1980.0 319.0,1980.0 322.0,1980.0 325.0,1980.0 328.0,1980.0 331.0,1980.0 334.0,1980.0 337.0,1980.0 340.0,1980.0 343.0,1980.0 346.0,1980.0 349.0,1980.0 352.0,1980.0 355.0,1980.0 358.0,1980.0 361.0,1980.0 364.0,1980.0 367.0,1980.0 370.0,1980.0 373.0,1980.0 376.0,1980.0 379.0,1980.0 382.0,1980.1 385.0,1980.1 388.0,1980.1 391.0,1980.1 394.0,1980.1 397.0,1980.1 400.0,1980.1 403.0,1980.1 406.0,1980.1 409.0,1980.1 412.0,1980.1 415.0,1980.1 418.0,1980.1 421.0,1980.2 424.0,1980.2 427.0,1980.2 430.0,1980.2 433.0,1980.2 436.0,1980.2 439.0,1980.2 442.0,1980.2 445.0,1980.3 448.0,1980.3 451.0,1980.3 454.0,1980.3 457.0,1980.3 460.0,1980.3 463.0,1980.4 466.0,1980.4 469.0,1980.4 472.0,1980.4 475.0,1980.5 478.0,1980.5 481.0,1980.5 484.0,1980.5 487.0,1980.6 490.0,1980.6 493.0,1980.6 496.0,1980.6 499.0,1980.7 502.0,1980.7 505.0,1980.7 508.0,1980.8 511.0,1980.8 514.0,1980.8 517.0,1980.9 520.0,1980.9 523.0,1980.9 526.0,1981.0 529.0,1981.0 532.0,1981.1 535.0,1981.1 538.0,1981.2 541.0,1981.2 544.0,1981.3 547.0,1981.3 550.0,1981.4 553.0,1981.5 556.0,1981.5 559.0,1981.6 562.0,1981.7 565.0,1981.7 568.0,1981.8 571.0,1981.9 574.0,1982.0 577.0,1982.1 580.0,1982.2 583.0,1982.3 586.0,1982.4 589.0,1982.5 592.0,1982.6 595.0,1982.7 598.0,1982.8 601.0,1982.9 604.0,1983.1 607.0,1983.2 610.0,1983.3 613.0,1983.5 616.0,1983.6 619.0,1983.8 622.0,1983.9 625.0,1984.1 628.0,1984.3 631.0,1984.4 634.0,1984.6 637.0,1984.8 640.0,1985.0 643.0,1985.2 646.0,1985.3 649.0,1985.5 652.0,1985.7 655.0,1985.9 658.0,1986.1 661.0,1986.3 664.0,1986.5 667.0,1986.7 670.0,1986.9 673.0,1987.1 676.0,1987.4 679.0,1987.6 682.0,1987.8 685.0,1988.0 688.0,1988.2 691.0,1988.4 694.0,1988.6 697.0,1988.8 700.0,1989.1 703.0,1989.3 706.0,1989.5 709.0,1989.7 712.0,1989.9 715.0,1990.1 718.0,1990.4 721.0,1990.6 724.0,1990.8 727.0,1991.0 730.0,1991.2 733.0,1991.4 736.0,1991.6 739.0,1991.9 742.0,1992.1 745.0,1992.3 748.0,1992.5 751.0,1992.7 754.0,1992.9 757.0,1993.1 760.0,1993.3 763.0,1993.5 766.0,1993.7 769.0,1993.9 772.0,1994.1 775.0,1994.2 778.0,1994.4 781.0,1994.6 784.0,1994.8 787.0,1994.9 790.0,1995.1 793.0,1995.2 796.0,1995.4 799.0,1995.5 802.0,1995.7 805.0,1995.8 808.0,1995.9 811.0,1996.0 814.0,1996.2 817.0,1996.3 820.0,1996.4 823.0,1996.5 826.0,1996.6 829.0,1996.6 832.0,1996.7 835.0,1996.8 838.0,1996.9 841.0,1996.9 844.0,1997.0 847.0,1997.1 850.0,1997.1 853.0,1997.2 856.0,1997.2 859.0,1997.3 862.0,1997.3 865.0,1997.3 868.0,1997.4 871.0,1997.4 874.0,1997.4 877.0,1997.4 880.0,1997.5 883.0,1997.5 886.0,1997.5 889.0,1997.5 892.0,1997.5 895.0,1997.5 898.0,1997.6 901.0,1997.6 904.0,1997.6 907.0,1997.6 910.0,1997.6 913.0,1997.6 916.0,1997.6 919.0,1997.6 922.0,1997.6 925.0,1997.6 928.0,1997.6 931.0,1997.6 934.0,1997.6 937.0,1997.6 940.0,1997.6 943.0,1997.6 946.0,1997.6 949.0,1997.6 952.0,1997.6 955.0,1997.6 958.0,1997.6 961.0,1997.6 964.0,1997.6 967.0,1997.6 970.0,1997.6 973.0,1997.6 976.0,1997.6 979.0,1997.6 982.0,1997.6 985.0,1997.6 988.0,1997.5 991.0,1997.5 994.0,1997.5 997.0,1997.4 1000.0,1997.4 1003.0,1997.3 1006.0,1997.2 1009.0,1997.1 1012.0,1997.0 1015.0,1996.9 1018.0,1996.7 1021.0,1996.5 1024.0,1996.3 1027.0,1996.0 1030.0,1995.7 1033.0,1995.3 1036.0,1994.8 1039.0,1994.3 1042.0,1993.7 1045.0,1993.1 1048.0,1992.3 1051.0,1991.4 1054.0,1990.4 1057.0,1989.2 1060.0,1987.9 1063.0,1986.4 1066.0,1984.8 1069.0,1982.9 1072.0,1980.9 1075.0,1978.6 1078.0,1976.0 1081.0,1973.1 1084.0,1970.0 1087.0,1966.5 1090.0,1962.7 1093.0,1958.6 1096.0,1954.0 1099.0,1949.1 1102.0,1943.8 1105.0,1938.0 1108.0,1931.8 1111.0,1925.1 1114.0,1918.0 1117.0,1910.4 1120.0,1902.3 1123.0,1893.8 1126.0,1884.8 1129.0,1875.3 1132.0,1865.3 1135.0,1854.9 1138.0,1844.2 1141.0,1833.0 1144.0,1821.4 1147.0,1809.6 1150.0,1797.4 1153.0,1785.0 1156.0,1772.5 1159.0,1759.8 1162.0,1747.0 1165.0,1734.2 1168.0,1721.5 1171.0,1709.0 1174.0,1696.6 1177.0,1684.5 1180.0,1672.8 1183.0,1661.4 1186.0,1650.6 1189.0,1640.4 1192.0,1630.8 1195.0,1621.9 1198.0,1613.8 1201.0,1606.5 1204.0,1600.1 1207.0,1594.6 1210.0,1590.1 1213.0,1586.7 1216.0,1584.2 1219.0,1582.9 1222.0,1582.6 1225.0,1583.4 1228.0,1585.3 1231.0,1588.2 1234.0,1592.1 1237.0,1597.1 1240.0,1603.1 1243.0,1610.0 1246.0,1617.7 1249.0,1626.3 1252.0,1635.7 1255.0,1645.8 1258.0,1656.5 1261.0,1667.8 1264.0,1679.6 1267.0,1691.8 1270.0,1704.3 1273.0,1717.1 1276.0,1730.2 1279.0,1743.3 1282.0,1756.5 1285.0,1769.7 1288.0,1782.8 1291.0,1795.8 1294.0,1808.5 1297.0,1821.1 1300.0,1833.4 1303.0,1845.3 1306.0,1856.8 1309.0,1868.0 1312.0,1878.8 1315.0,1889.1 1318.0,1898.9 1321.0,1908.3 1324.0,1917.2 1327.0,1925.6 1330.0,1933.5 1333.0,1941.0 1336.0,1948.0 1339.0,1954.5 1342.0,1960.6 1345.0,1966.2 1348.0,1971.4 1351.0,1976.3 1354.0,1980.7 1357.0,1984.8 1360.0,1988.5 1363.0,1991.9 1366.0,1995.0 1369.0,1997.8 1372.0,2000.3 1375.0,2002.6 1378.0,2004.7 1381.0,2006.6 1384.0,2008.2 1387.0,2009.7 1390.0,2011.1 1393.0,2012.3 1396.0,2013.3 1399.0,2014.3 1402.0,2015.1 1405.0,2015.8 1408.0,2016.5 1411.0,2017.0 1414.0,2017.5 1417.0,2018.0 1420.0,2018.4 1423.0,2018.7 1426.0,2019.0 1429.0,2019.3 1432.0,2019.5 1435.0,2019.7 1438.0,2019.9 1441.0,2020.0 1444.0,2020.1 1447.0,2020.3 1450.0,2020.4 1453.0,2020.4 1456.0,2020.5 1459.0,2020.6 1462.0,2020.6 1465.0,2020.7 1468.0,2020.7 1471.0,2020.8 1474.0,2020.8 1477.0,2020.8 1480.0,2020.8 1483.0,2020.9 1486.0,2020.9 1489.0,2020.9 1492.0,2020.9 1495.0,2020.9 1498.0,2020.9 1501.0,2020.9 1504.0,2021.0 1507.0,2021.0 1510.0,2021.0 1513.0,2021.0 1516.0,2021.0 1519.0,2021.0 1522.0,2021.0 1525.0,2021.0 1528.0,2021.0 1531.0,2021.0 1534.0,2021.0 1537.0,2021.0 1540.0,2021.0 1543.0,2021.0 1546.0,2021.0 1549.0,2021.0 1552.0,2021.0 1555.0,2021.0 1558.0,2021.0 1561.0,2021.0 1564.0,2021.0 1567.0,2021.0 1570.0,2021.0 1573.0,2021.0 1576.0,2021.0 1579.0,2021.0 1582.0,2021.0 1585.0,2021.0 1588.0,2021.0 1591.0,2021.0 1594.0,2021.0 1597.0,2021.0 1600.0,2021.0 1603.0,2021.0 1606.0,2021.0 1609.0,2021.0 1612.0,2021.0 1615.0,2021.0 1618.0,2021.0 1621.0,2021.0 1624.0,2021.0 1627.0,2021.0 1630.0,2021.0 1633.0,2021.0 1636.0,2021.0 1639.0,2021.0 1642.0,2021.0 1645.0,2021.0 1648.0,2021.0 1651.0,2021.0 1654.0,2021.0 1657.0,2021.0 1657.0,2021.0" fill="none" stroke="#c487f2" stroke-width="2.4" stroke-linejoin="round"/>
<polyline points="292.0,1980.0 295.0,1980.0 298.0,1980.0 301.0,1980.0 304.0,1980.0 307.0,1980.0 310.0,1980.0 313.0,1980.0 316.0,1980.0 319.0,1980.0 322.0,1980.0 325.0,1980.0 328.0,1980.0 331.0,1980.0 334.0,1980.0 337.0,1980.0 340.0,1980.0 343.0,1980.0 346.0,1980.0 349.0,1980.0 352.0,1980.0 355.0,1980.0 358.0,1980.0 361.0,1980.0 364.0,1980.0 367.0,1980.0 370.0,1980.0 373.0,1980.0 376.0,1980.0 379.0,1980.0 382.0,1980.1 385.0,1980.1 388.0,1980.1 391.0,1980.1 394.0,1980.1 397.0,1980.1 400.0,1980.1 403.0,1980.1 406.0,1980.1 409.0,1980.1 412.0,1980.1 415.0,1980.1 418.0,1980.1 421.0,1980.2 424.0,1980.2 427.0,1980.2 430.0,1980.2 433.0,1980.2 436.0,1980.2 439.0,1980.2 442.0,1980.2 445.0,1980.3 448.0,1980.3 451.0,1980.3 454.0,1980.3 457.0,1980.3 460.0,1980.3 463.0,1980.4 466.0,1980.4 469.0,1980.4 472.0,1980.4 475.0,1980.4 478.0,1980.5 481.0,1980.5 484.0,1980.5 487.0,1980.5 490.0,1980.6 493.0,1980.6 496.0,1980.6 499.0,1980.6 502.0,1980.7 505.0,1980.7 508.0,1980.7 511.0,1980.7 514.0,1980.7 517.0,1980.7 520.0,1980.7 523.0,1980.8 526.0,1980.8 529.0,1980.8 532.0,1980.7 535.0,1980.7 538.0,1980.7 541.0,1980.6 544.0,1980.6 547.0,1980.5 550.0,1980.4 553.0,1980.3 556.0,1980.2 559.0,1980.0 562.0,1979.8 565.0,1979.5 568.0,1979.2 571.0,1978.9 574.0,1978.5 577.0,1978.0 580.0,1977.5 583.0,1976.9 586.0,1976.2 589.0,1975.3 592.0,1974.4 595.0,1973.4 598.0,1972.2 601.0,1970.8 604.0,1969.3 607.0,1967.6 610.0,1965.8 613.0,1963.7 616.0,1961.4 619.0,1958.8 622.0,1956.0 625.0,1953.0 628.0,1949.6 631.0,1946.0 634.0,1942.0 637.0,1937.7 640.0,1933.1 643.0,1928.1 646.0,1922.8 649.0,1917.1 652.0,1911.1 655.0,1904.6 658.0,1897.8 661.0,1890.7 664.0,1883.1 667.0,1875.3 670.0,1867.1 673.0,1858.5 676.0,1849.7 679.0,1840.6 682.0,1831.2 685.0,1821.7 688.0,1811.9 691.0,1802.0 694.0,1792.0 697.0,1782.0 700.0,1772.0 703.0,1762.0 706.0,1752.1 709.0,1742.3 712.0,1732.8 715.0,1723.5 718.0,1714.6 721.0,1706.0 724.0,1697.9 727.0,1690.3 730.0,1683.2 733.0,1676.7 736.0,1670.8 739.0,1665.7 742.0,1661.2 745.0,1657.5 748.0,1654.5 751.0,1652.4 754.0,1651.1 757.0,1650.6 760.0,1650.9 763.0,1652.1 766.0,1654.2 769.0,1657.1 772.0,1660.9 775.0,1665.4 778.0,1670.7 781.0,1676.7 784.0,1683.4 787.0,1690.8 790.0,1698.7 793.0,1707.2 796.0,1716.1 799.0,1725.5 802.0,1735.2 805.0,1745.2 808.0,1755.4 811.0,1765.8 814.0,1776.3 817.0,1786.9 820.0,1797.5 823.0,1808.0 826.0,1818.5 829.0,1828.7 832.0,1838.8 835.0,1848.7 838.0,1858.3 841.0,1867.7 844.0,1876.7 847.0,1885.3 850.0,1893.7 853.0,1901.6 856.0,1909.2 859.0,1916.3 862.0,1923.1 865.0,1929.5 868.0,1935.5 871.0,1941.1 874.0,1946.4 877.0,1951.2 880.0,1955.7 883.0,1959.9 886.0,1963.8 889.0,1967.3 892.0,1970.5 895.0,1973.5 898.0,1976.1 901.0,1978.6 904.0,1980.8 907.0,1982.8 910.0,1984.6 913.0,1986.2 916.0,1987.6 919.0,1988.9 922.0,1990.0 925.0,1991.0 928.0,1991.9 931.0,1992.7 934.0,1993.4 937.0,1994.0 940.0,1994.5 943.0,1994.9 946.0,1995.3 949.0,1995.7 952.0,1996.0 955.0,1996.2 958.0,1996.5 961.0,1996.7 964.0,1996.8 967.0,1997.0 970.0,1997.1 973.0,1997.2 976.0,1997.3 979.0,1997.4 982.0,1997.4 985.0,1997.5 988.0,1997.5 991.0,1997.6 994.0,1997.6 997.0,1997.7 1000.0,1997.7 1003.0,1997.7 1006.0,1997.7 1009.0,1997.8 1012.0,1997.8 1015.0,1997.8 1018.0,1997.8 1021.0,1997.9 1024.0,1997.9 1027.0,1997.9 1030.0,1997.9 1033.0,1998.0 1036.0,1998.0 1039.0,1998.0 1042.0,1998.0 1045.0,1998.1 1048.0,1998.1 1051.0,1998.1 1054.0,1998.2 1057.0,1998.2 1060.0,1998.2 1063.0,1998.3 1066.0,1998.3 1069.0,1998.3 1072.0,1998.4 1075.0,1998.4 1078.0,1998.4 1081.0,1998.5 1084.0,1998.5 1087.0,1998.6 1090.0,1998.6 1093.0,1998.7 1096.0,1998.7 1099.0,1998.8 1102.0,1998.8 1105.0,1998.9 1108.0,1998.9 1111.0,1999.0 1114.0,1999.1 1117.0,1999.1 1120.0,1999.2 1123.0,1999.3 1126.0,1999.4 1129.0,1999.4 1132.0,1999.5 1135.0,1999.6 1138.0,1999.7 1141.0,1999.8 1144.0,1999.9 1147.0,2000.0 1150.0,2000.1 1153.0,2000.3 1156.0,2000.4 1159.0,2000.5 1162.0,2000.6 1165.0,2000.8 1168.0,2000.9 1171.0,2001.1 1174.0,2001.3 1177.0,2001.4 1180.0,2001.6 1183.0,2001.8 1186.0,2002.0 1189.0,2002.2 1192.0,2002.4 1195.0,2002.6 1198.0,2002.8 1201.0,2003.0 1204.0,2003.2 1207.0,2003.5 1210.0,2003.7 1213.0,2003.9 1216.0,2004.2 1219.0,2004.4 1222.0,2004.7 1225.0,2004.9 1228.0,2005.2 1231.0,2005.4 1234.0,2005.7 1237.0,2006.0 1240.0,2006.2 1243.0,2006.5 1246.0,2006.8 1249.0,2007.0 1252.0,2007.3 1255.0,2007.6 1258.0,2007.9 1261.0,2008.1 1264.0,2008.4 1267.0,2008.7 1270.0,2009.0 1273.0,2009.3 1276.0,2009.6 1279.0,2009.8 1282.0,2010.1 1285.0,2010.4 1288.0,2010.7 1291.0,2011.0 1294.0,2011.3 1297.0,2011.6 1300.0,2011.8 1303.0,2012.1 1306.0,2012.4 1309.0,2012.7 1312.0,2013.0 1315.0,2013.2 1318.0,2013.5 1321.0,2013.8 1324.0,2014.1 1327.0,2014.3 1330.0,2014.6 1333.0,2014.9 1336.0,2015.1 1339.0,2015.4 1342.0,2015.6 1345.0,2015.9 1348.0,2016.1 1351.0,2016.3 1354.0,2016.6 1357.0,2016.8 1360.0,2017.0 1363.0,2017.2 1366.0,2017.4 1369.0,2017.6 1372.0,2017.8 1375.0,2018.0 1378.0,2018.2 1381.0,2018.4 1384.0,2018.5 1387.0,2018.7 1390.0,2018.9 1393.0,2019.0 1396.0,2019.1 1399.0,2019.3 1402.0,2019.4 1405.0,2019.5 1408.0,2019.6 1411.0,2019.7 1414.0,2019.8 1417.0,2019.9 1420.0,2020.0 1423.0,2020.1 1426.0,2020.2 1429.0,2020.3 1432.0,2020.3 1435.0,2020.4 1438.0,2020.4 1441.0,2020.5 1444.0,2020.5 1447.0,2020.6 1450.0,2020.6 1453.0,2020.7 1456.0,2020.7 1459.0,2020.7 1462.0,2020.8 1465.0,2020.8 1468.0,2020.8 1471.0,2020.8 1474.0,2020.8 1477.0,2020.9 1480.0,2020.9 1483.0,2020.9 1486.0,2020.9 1489.0,2020.9 1492.0,2020.9 1495.0,2020.9 1498.0,2020.9 1501.0,2021.0 1504.0,2021.0 1507.0,2021.0 1510.0,2021.0 1513.0,2021.0 1516.0,2021.0 1519.0,2021.0 1522.0,2021.0 1525.0,2021.0 1528.0,2021.0 1531.0,2021.0 1534.0,2021.0 1537.0,2021.0 1540.0,2021.0 1543.0,2021.0 1546.0,2021.0 1549.0,2021.0 1552.0,2021.0 1555.0,2021.0 1558.0,2021.0 1561.0,2021.0 1564.0,2021.0 1567.0,2021.0 1570.0,2021.0 1573.0,2021.0 1576.0,2021.0 1579.0,2021.0 1582.0,2021.0 1585.0,2021.0 1588.0,2021.0 1591.0,2021.0 1594.0,2021.0 1597.0,2021.0 1600.0,2021.0 1603.0,2021.0 1606.0,2021.0 1609.0,2021.0 1612.0,2021.0 1615.0,2021.0 1618.0,2021.0 1621.0,2021.0 1624.0,2021.0 1627.0,2021.0 1630.0,2021.0 1633.0,2021.0 1636.0,2021.0 1639.0,2021.0 1642.0,2021.0 1645.0,2021.0 1648.0,2021.0 1651.0,2021.0 1654.0,2021.0 1657.0,2021.0 1657.0,2021.0" fill="none" stroke="#efb64a" stroke-width="2.4" stroke-linejoin="round"/>
<polyline points="292.0,1980.0 295.0,1980.0 298.0,1980.0 301.0,1980.0 304.0,1980.0 307.0,1980.0 310.0,1980.0 313.0,1980.0 316.0,1980.0 319.0,1980.0 322.0,1980.0 325.0,1980.0 328.0,1980.0 331.0,1980.0 334.0,1980.0 337.0,1980.0 340.0,1980.0 343.0,1980.0 346.0,1980.0 349.0,1980.0 352.0,1980.0 355.0,1980.0 358.0,1980.0 361.0,1980.0 364.0,1980.0 367.0,1980.0 370.0,1980.0 373.0,1980.0 376.0,1980.0 379.0,1980.0 382.0,1980.1 385.0,1980.1 388.0,1980.1 391.0,1980.1 394.0,1980.1 397.0,1980.1 400.0,1980.1 403.0,1980.1 406.0,1980.1 409.0,1980.1 412.0,1980.1 415.0,1980.1 418.0,1980.1 421.0,1980.2 424.0,1980.2 427.0,1980.2 430.0,1980.2 433.0,1980.2 436.0,1980.2 439.0,1980.2 442.0,1980.2 445.0,1980.3 448.0,1980.3 451.0,1980.3 454.0,1980.3 457.0,1980.3 460.0,1980.3 463.0,1980.4 466.0,1980.4 469.0,1980.4 472.0,1980.4 475.0,1980.5 478.0,1980.5 481.0,1980.5 484.0,1980.5 487.0,1980.6 490.0,1980.6 493.0,1980.6 496.0,1980.6 499.0,1980.7 502.0,1980.7 505.0,1980.7 508.0,1980.8 511.0,1980.8 514.0,1980.8 517.0,1980.9 520.0,1980.9 523.0,1980.9 526.0,1981.0 529.0,1981.0 532.0,1981.1 535.0,1981.1 538.0,1981.2 541.0,1981.2 544.0,1981.3 547.0,1981.3 550.0,1981.4 553.0,1981.5 556.0,1981.5 559.0,1981.6 562.0,1981.7 565.0,1981.7 568.0,1981.8 571.0,1981.9 574.0,1982.0 577.0,1982.1 580.0,1982.2 583.0,1982.3 586.0,1982.4 589.0,1982.5 592.0,1982.6 595.0,1982.7 598.0,1982.8 601.0,1982.9 604.0,1983.1 607.0,1983.2 610.0,1983.3 613.0,1983.5 616.0,1983.6 619.0,1983.8 622.0,1983.9 625.0,1984.1 628.0,1984.3 631.0,1984.4 634.0,1984.6 637.0,1984.8 640.0,1985.0 643.0,1985.2 646.0,1985.3 649.0,1985.5 652.0,1985.7 655.0,1985.9 658.0,1986.1 661.0,1986.3 664.0,1986.5 667.0,1986.7 670.0,1986.9 673.0,1987.1 676.0,1987.4 679.0,1987.6 682.0,1987.8 685.0,1988.0 688.0,1988.2 691.0,1988.4 694.0,1988.6 697.0,1988.8 700.0,1989.1 703.0,1989.3 706.0,1989.5 709.0,1989.7 712.0,1989.9 715.0,1990.1 718.0,1990.4 721.0,1990.6 724.0,1990.8 727.0,1991.0 730.0,1991.2 733.0,1991.4 736.0,1991.6 739.0,1991.9 742.0,1992.1 745.0,1992.3 748.0,1992.5 751.0,1992.7 754.0,1992.9 757.0,1993.1 760.0,1993.3 763.0,1993.5 766.0,1993.7 769.0,1993.9 772.0,1994.1 775.0,1994.2 778.0,1994.4 781.0,1994.6 784.0,1994.8 787.0,1994.9 790.0,1995.1 793.0,1995.2 796.0,1995.4 799.0,1995.5 802.0,1995.7 805.0,1995.8 808.0,1995.9 811.0,1996.0 814.0,1996.2 817.0,1996.3 820.0,1996.4 823.0,1996.5 826.0,1996.6 829.0,1996.6 832.0,1996.7 835.0,1996.8 838.0,1996.9 841.0,1996.9 844.0,1997.0 847.0,1997.1 850.0,1997.1 853.0,1997.2 856.0,1997.2 859.0,1997.3 862.0,1997.3 865.0,1997.3 868.0,1997.4 871.0,1997.4 874.0,1997.4 877.0,1997.4 880.0,1997.5 883.0,1997.5 886.0,1997.5 889.0,1997.5 892.0,1997.5 895.0,1997.5 898.0,1997.6 901.0,1997.6 904.0,1997.6 907.0,1997.6 910.0,1997.6 913.0,1997.6 916.0,1997.6 919.0,1997.6 922.0,1997.6 925.0,1997.6 928.0,1997.6 931.0,1997.6 934.0,1997.6 937.0,1997.6 940.0,1997.6 943.0,1997.6 946.0,1997.6 949.0,1997.7 952.0,1997.7 955.0,1997.7 958.0,1997.7 961.0,1997.7 964.0,1997.7 967.0,1997.7 970.0,1997.7 973.0,1997.7 976.0,1997.7 979.0,1997.7 982.0,1997.7 985.0,1997.7 988.0,1997.7 991.0,1997.7 994.0,1997.8 997.0,1997.8 1000.0,1997.8 1003.0,1997.8 1006.0,1997.8 1009.0,1997.8 1012.0,1997.8 1015.0,1997.8 1018.0,1997.9 1021.0,1997.9 1024.0,1997.9 1027.0,1997.9 1030.0,1997.9 1033.0,1998.0 1036.0,1998.0 1039.0,1998.0 1042.0,1998.0 1045.0,1998.1 1048.0,1998.1 1051.0,1998.1 1054.0,1998.2 1057.0,1998.2 1060.0,1998.2 1063.0,1998.2 1066.0,1998.3 1069.0,1998.3 1072.0,1998.3 1075.0,1998.4 1078.0,1998.4 1081.0,1998.4 1084.0,1998.5 1087.0,1998.5 1090.0,1998.5 1093.0,1998.5 1096.0,1998.5 1099.0,1998.5 1102.0,1998.6 1105.0,1998.6 1108.0,1998.5 1111.0,1998.5 1114.0,1998.5 1117.0,1998.4 1120.0,1998.4 1123.0,1998.3 1126.0,1998.2 1129.0,1998.0 1132.0,1997.8 1135.0,1997.6 1138.0,1997.4 1141.0,1997.0 1144.0,1996.7 1147.0,1996.2 1150.0,1995.7 1153.0,1995.1 1156.0,1994.4 1159.0,1993.6 1162.0,1992.6 1165.0,1991.6 1168.0,1990.3 1171.0,1988.9 1174.0,1987.3 1177.0,1985.5 1180.0,1983.5 1183.0,1981.2 1186.0,1978.7 1189.0,1975.9 1192.0,1972.8 1195.0,1969.3 1198.0,1965.5 1201.0,1961.3 1204.0,1956.7 1207.0,1951.7 1210.0,1946.3 1213.0,1940.4 1216.0,1934.1 1219.0,1927.2 1222.0,1919.9 1225.0,1912.0 1228.0,1903.7 1231.0,1894.8 1234.0,1885.4 1237.0,1875.5 1240.0,1865.1 1243.0,1854.3 1246.0,1843.0 1249.0,1831.2 1252.0,1819.0 1255.0,1806.5 1258.0,1793.7 1261.0,1780.6 1264.0,1767.2 1267.0,1753.7 1270.0,1740.1 1273.0,1726.4 1276.0,1712.8 1279.0,1699.3 1282.0,1686.0 1285.0,1673.0 1288.0,1660.3 1291.0,1648.0 1294.0,1636.2 1297.0,1625.0 1300.0,1614.5 1303.0,1604.7 1306.0,1595.7 1309.0,1587.6 1312.0,1580.4 1315.0,1574.2 1318.0,1569.1 1321.0,1565.0 1324.0,1562.0 1327.0,1560.2 1330.0,1559.5 1333.0,1559.9 1336.0,1561.3 1339.0,1563.8 1342.0,1567.2 1345.0,1571.5 1348.0,1576.8 1351.0,1583.1 1354.0,1590.1 1357.0,1598.0 1360.0,1606.6 1363.0,1616.0 1366.0,1626.0 1369.0,1636.7 1372.0,1647.8 1375.0,1659.4 1378.0,1671.5 1381.0,1683.9 1384.0,1696.5 1387.0,1709.4 1390.0,1722.4 1393.0,1735.6 1396.0,1748.7 1399.0,1761.8 1402.0,1774.8 1405.0,1787.7 1408.0,1800.4 1411.0,1812.9 1414.0,1825.1 1417.0,1837.0 1420.0,1848.5 1423.0,1859.7 1426.0,1870.5 1429.0,1880.9 1432.0,1890.8 1435.0,1900.3 1438.0,1909.4 1441.0,1918.0 1444.0,1926.2 1447.0,1933.9 1450.0,1941.1 1453.0,1947.9 1456.0,1954.3 1459.0,1960.3 1462.0,1965.8 1465.0,1971.0 1468.0,1975.8 1471.0,1980.2 1474.0,1984.2 1477.0,1987.9 1480.0,1991.4 1483.0,1994.5 1486.0,1997.3 1489.0,1999.9 1492.0,2002.3 1495.0,2004.4 1498.0,2006.3 1501.0,2008.0 1504.0,2009.6 1507.0,2011.0 1510.0,2012.2 1513.0,2013.3 1516.0,2014.3 1519.0,2015.1 1522.0,2015.9 1525.0,2016.6 1528.0,2017.2 1531.0,2017.7 1534.0,2018.2 1537.0,2018.6 1540.0,2018.9 1543.0,2019.2 1546.0,2019.5 1549.0,2019.7 1552.0,2019.9 1555.0,2020.1 1558.0,2020.2 1561.0,2020.3 1564.0,2020.4 1567.0,2020.5 1570.0,2020.6 1573.0,2020.7 1576.0,2020.7 1579.0,2020.8 1582.0,2020.8 1585.0,2020.8 1588.0,2020.9 1591.0,2020.9 1594.0,2020.9 1597.0,2020.9 1600.0,2020.9 1603.0,2020.9 1606.0,2021.0 1609.0,2021.0 1612.0,2021.0 1615.0,2021.0 1618.0,2021.0 1621.0,2021.0 1624.0,2021.0 1627.0,2021.0 1630.0,2021.0 1633.0,2021.0 1636.0,2021.0 1639.0,2021.0 1642.0,2021.0 1645.0,2021.0 1648.0,2021.0 1651.0,2021.0 1654.0,2021.0 1657.0,2021.0 1657.0,2021.0" fill="none" stroke="#efb64a" stroke-width="2.4" stroke-linejoin="round"/>
<polyline points="292.0,1979.3 295.0,1979.2 298.0,1979.2 301.0,1979.1 304.0,1979.0 307.0,1978.9 310.0,1978.8 313.0,1978.7 316.0,1978.5 319.0,1978.4 322.0,1978.2 325.0,1978.1 328.0,1977.9 331.0,1977.7 334.0,1977.4 337.0,1977.2 340.0,1976.9 343.0,1976.6 346.0,1976.3 349.0,1976.0 352.0,1975.6 355.0,1975.2 358.0,1974.8 361.0,1974.4 364.0,1973.9 367.0,1973.4 370.0,1972.8 373.0,1972.2 376.0,1971.6 379.0,1971.0 382.0,1970.3 385.0,1969.6 388.0,1968.8 391.0,1968.0 394.0,1967.2 397.0,1966.3 400.0,1965.4 403.0,1964.5 406.0,1963.5 409.0,1962.5 412.0,1961.5 415.0,1960.4 418.0,1959.3 421.0,1958.2 424.0,1957.1 427.0,1956.0 430.0,1954.8 433.0,1953.7 436.0,1952.5 439.0,1951.3 442.0,1950.2 445.0,1949.0 448.0,1947.9 451.0,1946.8 454.0,1945.7 457.0,1944.6 460.0,1943.6 463.0,1942.6 466.0,1941.6 469.0,1940.7 472.0,1939.9 475.0,1939.0 478.0,1938.3 481.0,1937.6 484.0,1937.0 487.0,1936.5 490.0,1936.0 493.0,1935.7 496.0,1935.4 499.0,1935.2 502.0,1935.0 505.0,1935.0 508.0,1935.0 511.0,1935.2 514.0,1935.5 517.0,1935.9 520.0,1936.5 523.0,1937.1 526.0,1937.9 529.0,1938.7 532.0,1939.7 535.0,1940.7 538.0,1941.9 541.0,1943.0 544.0,1944.3 547.0,1945.6 550.0,1947.0 553.0,1948.4 556.0,1949.8 559.0,1951.3 562.0,1952.7 565.0,1954.2 568.0,1955.7 571.0,1957.2 574.0,1958.6 577.0,1960.1 580.0,1961.5 583.0,1962.9 586.0,1964.3 589.0,1965.6 592.0,1966.9 595.0,1968.1 598.0,1969.3 601.0,1970.5 604.0,1971.6 607.0,1972.6 610.0,1973.6 613.0,1974.6 616.0,1975.5 619.0,1976.4 622.0,1977.2 625.0,1978.0 628.0,1978.7 631.0,1979.4 634.0,1980.1 637.0,1980.7 640.0,1981.3 643.0,1981.9 646.0,1982.4 649.0,1982.9 652.0,1983.4 655.0,1983.8 658.0,1984.2 661.0,1984.6 664.0,1985.0 667.0,1985.4 670.0,1985.7 673.0,1986.1 676.0,1986.4 679.0,1986.7 682.0,1987.0 685.0,1987.3 688.0,1987.6 691.0,1987.8 694.0,1988.1 697.0,1988.4 700.0,1988.6 703.0,1988.9 706.0,1989.1 709.0,1989.4 712.0,1989.6 715.0,1989.8 718.0,1990.1 721.0,1990.3 724.0,1990.5 727.0,1990.8 730.0,1991.0 733.0,1991.2 736.0,1991.4 739.0,1991.7 742.0,1991.9 745.0,1992.1 748.0,1992.3 751.0,1992.5 754.0,1992.7 757.0,1992.9 760.0,1993.1 763.0,1993.3 766.0,1993.5 769.0,1993.7 772.0,1993.9 775.0,1994.1 778.0,1994.3 781.0,1994.4 784.0,1994.6 787.0,1994.8 790.0,1994.9 793.0,1995.1 796.0,1995.3 799.0,1995.4 802.0,1995.5 805.0,1995.7 808.0,1995.8 811.0,1995.9 814.0,1996.0 817.0,1996.2 820.0,1996.3 823.0,1996.4 826.0,1996.5 829.0,1996.5 832.0,1996.6 835.0,1996.7 838.0,1996.8 841.0,1996.8 844.0,1996.9 847.0,1997.0 850.0,1997.0 853.0,1997.1 856.0,1997.1 859.0,1997.2 862.0,1997.2 865.0,1997.2 868.0,1997.3 871.0,1997.3 874.0,1997.3 877.0,1997.4 880.0,1997.4 883.0,1997.4 886.0,1997.4 889.0,1997.4 892.0,1997.5 895.0,1997.5 898.0,1997.5 901.0,1997.5 904.0,1997.5 907.0,1997.5 910.0,1997.5 913.0,1997.5 916.0,1997.5 919.0,1997.5 922.0,1997.6 925.0,1997.6 928.0,1997.6 931.0,1997.6 934.0,1997.6 937.0,1997.6 940.0,1997.6 943.0,1997.6 946.0,1997.6 949.0,1997.6 952.0,1997.6 955.0,1997.6 958.0,1997.6 961.0,1997.6 964.0,1997.6 967.0,1997.6 970.0,1997.6 973.0,1997.6 976.0,1997.7 979.0,1997.7 982.0,1997.7 985.0,1997.7 988.0,1997.7 991.0,1997.7 994.0,1997.7 997.0,1997.7 1000.0,1997.7 1003.0,1997.7 1006.0,1997.8 1009.0,1997.8 1012.0,1997.8 1015.0,1997.8 1018.0,1997.8 1021.0,1997.8 1024.0,1997.9 1027.0,1997.9 1030.0,1997.9 1033.0,1997.9 1036.0,1998.0 1039.0,1998.0 1042.0,1998.0 1045.0,1998.0 1048.0,1998.1 1051.0,1998.1 1054.0,1998.1 1057.0,1998.2 1060.0,1998.2 1063.0,1998.2 1066.0,1998.3 1069.0,1998.3 1072.0,1998.3 1075.0,1998.4 1078.0,1998.4 1081.0,1998.5 1084.0,1998.5 1087.0,1998.5 1090.0,1998.6 1093.0,1998.6 1096.0,1998.7 1099.0,1998.7 1102.0,1998.8 1105.0,1998.9 1108.0,1998.9 1111.0,1999.0 1114.0,1999.0 1117.0,1999.1 1120.0,1999.2 1123.0,1999.3 1126.0,1999.3 1129.0,1999.4 1132.0,1999.5 1135.0,1999.6 1138.0,1999.7 1141.0,1999.8 1144.0,1999.9 1147.0,2000.0 1150.0,2000.1 1153.0,2000.2 1156.0,2000.4 1159.0,2000.5 1162.0,2000.6 1165.0,2000.8 1168.0,2000.9 1171.0,2001.1 1174.0,2001.2 1177.0,2001.4 1180.0,2001.6 1183.0,2001.8 1186.0,2001.9 1189.0,2002.1 1192.0,2002.3 1195.0,2002.5 1198.0,2002.8 1201.0,2003.0 1204.0,2003.2 1207.0,2003.4 1210.0,2003.7 1213.0,2003.9 1216.0,2004.1 1219.0,2004.4 1222.0,2004.6 1225.0,2004.9 1228.0,2005.1 1231.0,2005.4 1234.0,2005.7 1237.0,2005.9 1240.0,2006.2 1243.0,2006.5 1246.0,2006.7 1249.0,2007.0 1252.0,2007.3 1255.0,2007.6 1258.0,2007.9 1261.0,2008.1 1264.0,2008.4 1267.0,2008.7 1270.0,2009.0 1273.0,2009.3 1276.0,2009.5 1279.0,2009.8 1282.0,2010.1 1285.0,2010.4 1288.0,2010.7 1291.0,2011.0 1294.0,2011.3 1297.0,2011.5 1300.0,2011.8 1303.0,2012.1 1306.0,2012.4 1309.0,2012.7 1312.0,2012.9 1315.0,2013.2 1318.0,2013.5 1321.0,2013.8 1324.0,2014.0 1327.0,2014.3 1330.0,2014.6 1333.0,2014.8 1336.0,2015.1 1339.0,2015.4 1342.0,2015.6 1345.0,2015.9 1348.0,2016.1 1351.0,2016.3 1354.0,2016.6 1357.0,2016.8 1360.0,2017.0 1363.0,2017.2 1366.0,2017.4 1369.0,2017.6 1372.0,2017.8 1375.0,2018.0 1378.0,2018.2 1381.0,2018.4 1384.0,2018.5 1387.0,2018.7 1390.0,2018.8 1393.0,2019.0 1396.0,2019.1 1399.0,2019.3 1402.0,2019.4 1405.0,2019.5 1408.0,2019.6 1411.0,2019.7 1414.0,2019.8 1417.0,2019.9 1420.0,2020.0 1423.0,2020.1 1426.0,2020.2 1429.0,2020.2 1432.0,2020.3 1435.0,2020.4 1438.0,2020.4 1441.0,2020.5 1444.0,2020.5 1447.0,2020.6 1450.0,2020.6 1453.0,2020.7 1456.0,2020.7 1459.0,2020.7 1462.0,2020.7 1465.0,2020.8 1468.0,2020.8 1471.0,2020.8 1474.0,2020.8 1477.0,2020.9 1480.0,2020.9 1483.0,2020.9 1486.0,2020.9 1489.0,2020.9 1492.0,2020.9 1495.0,2020.9 1498.0,2020.9 1501.0,2020.9 1504.0,2020.9 1507.0,2021.0 1510.0,2021.0 1513.0,2021.0 1516.0,2021.0 1519.0,2021.0 1522.0,2021.0 1525.0,2021.0 1528.0,2021.0 1531.0,2021.0 1534.0,2021.0 1537.0,2021.0 1540.0,2021.0 1543.0,2021.0 1546.0,2021.0 1549.0,2021.0 1552.0,2021.0 1555.0,2021.0 1558.0,2021.0 1561.0,2021.0 1564.0,2021.0 1567.0,2021.0 1570.0,2021.0 1573.0,2021.0 1576.0,2021.0 1579.0,2021.0 1582.0,2021.0 1585.0,2021.0 1588.0,2021.0 1591.0,2021.0 1594.0,2021.0 1597.0,2021.0 1600.0,2021.0 1603.0,2021.0 1606.0,2021.0 1609.0,2021.0 1612.0,2021.0 1615.0,2021.0 1618.0,2021.0 1621.0,2021.0 1624.0,2021.0 1627.0,2021.0 1630.0,2021.0 1633.0,2021.0 1636.0,2021.0 1639.0,2021.0 1642.0,2021.0 1645.0,2021.0 1648.0,2021.0 1651.0,2021.0 1654.0,2021.0 1657.0,2021.0 1657.0,2021.0" fill="none" stroke="#4cbf66" stroke-width="2.4" stroke-linejoin="round"/>
<polyline points="292.0,1980.0 295.0,1980.0 298.0,1980.0 301.0,1980.0 304.0,1980.0 307.0,1980.0 310.0,1980.0 313.0,1980.0 316.0,1980.0 319.0,1980.0 322.0,1980.0 325.0,1980.0 328.0,1980.0 331.0,1980.0 334.0,1980.0 337.0,1980.0 340.0,1980.0 343.0,1980.0 346.0,1980.0 349.0,1980.0 352.0,1980.0 355.0,1980.0 358.0,1980.0 361.0,1980.0 364.0,1980.0 367.0,1980.0 370.0,1980.0 373.0,1980.0 376.0,1980.0 379.0,1980.0 382.0,1980.0 385.0,1980.0 388.0,1980.0 391.0,1980.0 394.0,1980.0 397.0,1980.1 400.0,1980.1 403.0,1980.1 406.0,1980.1 409.0,1980.1 412.0,1980.1 415.0,1980.1 418.0,1980.1 421.0,1980.1 424.0,1980.1 427.0,1980.1 430.0,1980.2 433.0,1980.2 436.0,1980.2 439.0,1980.2 442.0,1980.2 445.0,1980.2 448.0,1980.2 451.0,1980.3 454.0,1980.3 457.0,1980.3 460.0,1980.3 463.0,1980.3 466.0,1980.3 469.0,1980.4 472.0,1980.4 475.0,1980.4 478.0,1980.4 481.0,1980.5 484.0,1980.5 487.0,1980.5 490.0,1980.5 493.0,1980.6 496.0,1980.6 499.0,1980.6 502.0,1980.7 505.0,1980.7 508.0,1980.7 511.0,1980.8 514.0,1980.8 517.0,1980.8 520.0,1980.9 523.0,1980.9 526.0,1980.9 529.0,1981.0 532.0,1981.0 535.0,1981.1 538.0,1981.1 541.0,1981.2 544.0,1981.2 547.0,1981.3 550.0,1981.3 553.0,1981.4 556.0,1981.5 559.0,1981.5 562.0,1981.6 565.0,1981.7 568.0,1981.8 571.0,1981.8 574.0,1981.9 577.0,1982.0 580.0,1982.1 583.0,1982.2 586.0,1982.3 589.0,1982.4 592.0,1982.5 595.0,1982.6 598.0,1982.8 601.0,1982.9 604.0,1983.0 607.0,1983.1 610.0,1983.3 613.0,1983.4 616.0,1983.6 619.0,1983.7 622.0,1983.9 625.0,1984.0 628.0,1984.2 631.0,1984.4 634.0,1984.5 637.0,1984.7 640.0,1984.9 643.0,1985.1 646.0,1985.3 649.0,1985.5 652.0,1985.7 655.0,1985.8 658.0,1986.0 661.0,1986.2 664.0,1986.4 667.0,1986.6 670.0,1986.8 673.0,1987.1 676.0,1987.3 679.0,1987.5 682.0,1987.7 685.0,1987.9 688.0,1988.1 691.0,1988.3 694.0,1988.5 697.0,1988.7 700.0,1989.0 703.0,1989.2 706.0,1989.4 709.0,1989.6 712.0,1989.8 715.0,1990.0 718.0,1990.2 721.0,1990.5 724.0,1990.7 727.0,1990.9 730.0,1991.1 733.0,1991.3 736.0,1991.5 739.0,1991.7 742.0,1991.9 745.0,1992.1 748.0,1992.4 751.0,1992.6 754.0,1992.8 757.0,1993.0 760.0,1993.2 763.0,1993.3 766.0,1993.5 769.0,1993.7 772.0,1993.9 775.0,1994.1 778.0,1994.3 781.0,1994.4 784.0,1994.6 787.0,1994.8 790.0,1994.9 793.0,1995.1 796.0,1995.2 799.0,1995.3 802.0,1995.5 805.0,1995.6 808.0,1995.7 811.0,1995.8 814.0,1996.0 817.0,1996.1 820.0,1996.2 823.0,1996.2 826.0,1996.3 829.0,1996.4 832.0,1996.5 835.0,1996.6 838.0,1996.6 841.0,1996.7 844.0,1996.7 847.0,1996.8 850.0,1996.8 853.0,1996.9 856.0,1996.9 859.0,1996.9 862.0,1996.9 865.0,1996.9 868.0,1996.9 871.0,1996.9 874.0,1996.9 877.0,1996.9 880.0,1996.9 883.0,1996.9 886.0,1996.8 889.0,1996.8 892.0,1996.7 895.0,1996.7 898.0,1996.6 901.0,1996.5 904.0,1996.4 907.0,1996.3 910.0,1996.1 913.0,1996.0 916.0,1995.8 919.0,1995.6 922.0,1995.3 925.0,1995.1 928.0,1994.8 931.0,1994.5 934.0,1994.1 937.0,1993.7 940.0,1993.3 943.0,1992.8 946.0,1992.3 949.0,1991.7 952.0,1991.1 955.0,1990.4 958.0,1989.7 961.0,1988.9 964.0,1988.0 967.0,1987.1 970.0,1986.1 973.0,1985.1 976.0,1984.0 979.0,1982.8 982.0,1981.6 985.0,1980.2 988.0,1978.9 991.0,1977.4 994.0,1975.9 997.0,1974.4 1000.0,1972.8 1003.0,1971.1 1006.0,1969.5 1009.0,1967.7 1012.0,1966.0 1015.0,1964.2 1018.0,1962.4 1021.0,1960.6 1024.0,1958.8 1027.0,1957.0 1030.0,1955.2 1033.0,1953.4 1036.0,1951.7 1039.0,1950.1 1042.0,1948.5 1045.0,1947.0 1048.0,1945.5 1051.0,1944.2 1054.0,1942.9 1057.0,1941.8 1060.0,1940.8 1063.0,1939.9 1066.0,1939.2 1069.0,1938.6 1072.0,1938.1 1075.0,1937.8 1078.0,1937.7 1081.0,1937.7 1084.0,1937.9 1087.0,1938.2 1090.0,1938.7 1093.0,1939.3 1096.0,1940.1 1099.0,1941.0 1102.0,1942.1 1105.0,1943.3 1108.0,1944.6 1111.0,1946.0 1114.0,1947.5 1117.0,1949.1 1120.0,1950.7 1123.0,1952.5 1126.0,1954.2 1129.0,1956.1 1132.0,1958.0 1135.0,1959.9 1138.0,1961.8 1141.0,1963.7 1144.0,1965.6 1147.0,1967.5 1150.0,1969.5 1153.0,1971.3 1156.0,1973.2 1159.0,1975.0 1162.0,1976.8 1165.0,1978.5 1168.0,1980.1 1171.0,1981.8 1174.0,1983.3 1177.0,1984.8 1180.0,1986.3 1183.0,1987.7 1186.0,1989.0 1189.0,1990.3 1192.0,1991.5 1195.0,1992.6 1198.0,1993.7 1201.0,1994.7 1204.0,1995.7 1207.0,1996.6 1210.0,1997.5 1213.0,1998.4 1216.0,1999.1 1219.0,1999.9 1222.0,2000.6 1225.0,2001.3 1228.0,2001.9 1231.0,2002.5 1234.0,2003.0 1237.0,2003.6 1240.0,2004.1 1243.0,2004.6 1246.0,2005.1 1249.0,2005.5 1252.0,2005.9 1255.0,2006.4 1258.0,2006.8 1261.0,2007.2 1264.0,2007.5 1267.0,2007.9 1270.0,2008.3 1273.0,2008.6 1276.0,2008.9 1279.0,2009.3 1282.0,2009.6 1285.0,2009.9 1288.0,2010.2 1291.0,2010.6 1294.0,2010.9 1297.0,2011.2 1300.0,2011.5 1303.0,2011.8 1306.0,2012.1 1309.0,2012.4 1312.0,2012.7 1315.0,2013.0 1318.0,2013.3 1321.0,2013.5 1324.0,2013.8 1327.0,2014.1 1330.0,2014.4 1333.0,2014.6 1336.0,2014.9 1339.0,2015.2 1342.0,2015.4 1345.0,2015.7 1348.0,2015.9 1351.0,2016.2 1354.0,2016.4 1357.0,2016.6 1360.0,2016.8 1363.0,2017.1 1366.0,2017.3 1369.0,2017.5 1372.0,2017.7 1375.0,2017.9 1378.0,2018.0 1381.0,2018.2 1384.0,2018.4 1387.0,2018.6 1390.0,2018.7 1393.0,2018.9 1396.0,2019.0 1399.0,2019.1 1402.0,2019.3 1405.0,2019.4 1408.0,2019.5 1411.0,2019.6 1414.0,2019.7 1417.0,2019.8 1420.0,2019.9 1423.0,2020.0 1426.0,2020.1 1429.0,2020.1 1432.0,2020.2 1435.0,2020.3 1438.0,2020.3 1441.0,2020.4 1444.0,2020.4 1447.0,2020.5 1450.0,2020.5 1453.0,2020.6 1456.0,2020.6 1459.0,2020.6 1462.0,2020.7 1465.0,2020.7 1468.0,2020.7 1471.0,2020.7 1474.0,2020.8 1477.0,2020.8 1480.0,2020.8 1483.0,2020.8 1486.0,2020.8 1489.0,2020.8 1492.0,2020.8 1495.0,2020.9 1498.0,2020.9 1501.0,2020.9 1504.0,2020.9 1507.0,2020.9 1510.0,2020.9 1513.0,2020.9 1516.0,2020.9 1519.0,2020.9 1522.0,2020.9 1525.0,2020.9 1528.0,2020.9 1531.0,2020.9 1534.0,2020.9 1537.0,2020.9 1540.0,2020.9 1543.0,2020.9 1546.0,2020.9 1549.0,2020.9 1552.0,2020.9 1555.0,2020.9 1558.0,2020.9 1561.0,2020.9 1564.0,2020.9 1567.0,2020.9 1570.0,2020.9 1573.0,2020.9 1576.0,2020.9 1579.0,2020.9 1582.0,2020.9 1585.0,2020.9 1588.0,2020.9 1591.0,2020.9 1594.0,2020.9 1597.0,2020.9 1600.0,2020.9 1603.0,2020.9 1606.0,2020.9 1609.0,2020.9 1612.0,2020.9 1615.0,2020.9 1618.0,2020.9 1621.0,2020.9 1624.0,2020.9 1627.0,2021.0 1630.0,2021.0 1633.0,2021.0 1636.0,2021.0 1639.0,2021.0 1642.0,2021.0 1645.0,2021.0 1648.0,2021.0 1651.0,2021.0 1654.0,2021.0 1657.0,2021.0 1657.0,2021.0" fill="none" stroke="#4cbf66" stroke-width="2.4" stroke-linejoin="round"/>
<polyline points="292.0,1980.0 295.0,1980.0 298.0,1980.0 301.0,1980.0 304.0,1980.0 307.0,1980.0 310.0,1980.0 313.0,1980.0 316.0,1980.0 319.0,1980.0 322.0,1980.0 325.0,1980.0 328.0,1980.0 331.0,1980.0 334.0,1980.0 337.0,1980.0 340.0,1980.0 343.0,1980.0 346.0,1980.0 349.0,1980.0 352.0,1980.0 355.0,1980.0 358.0,1980.0 361.0,1980.0 364.0,1980.0 367.0,1980.0 370.0,1980.0 373.0,1980.0 376.0,1980.0 379.0,1980.0 382.0,1980.1 385.0,1980.1 388.0,1980.1 391.0,1980.1 394.0,1980.1 397.0,1980.1 400.0,1980.1 403.0,1980.1 406.0,1980.1 409.0,1980.1 412.0,1980.1 415.0,1980.1 418.0,1980.1 421.0,1980.2 424.0,1980.2 427.0,1980.2 430.0,1980.2 433.0,1980.2 436.0,1980.2 439.0,1980.2 442.0,1980.2 445.0,1980.3 448.0,1980.3 451.0,1980.3 454.0,1980.3 457.0,1980.3 460.0,1980.3 463.0,1980.4 466.0,1980.4 469.0,1980.4 472.0,1980.4 475.0,1980.5 478.0,1980.5 481.0,1980.5 484.0,1980.5 487.0,1980.6 490.0,1980.6 493.0,1980.6 496.0,1980.6 499.0,1980.7 502.0,1980.7 505.0,1980.7 508.0,1980.8 511.0,1980.8 514.0,1980.8 517.0,1980.9 520.0,1980.9 523.0,1980.9 526.0,1981.0 529.0,1981.0 532.0,1981.1 535.0,1981.1 538.0,1981.2 541.0,1981.2 544.0,1981.3 547.0,1981.3 550.0,1981.4 553.0,1981.5 556.0,1981.5 559.0,1981.6 562.0,1981.7 565.0,1981.7 568.0,1981.8 571.0,1981.9 574.0,1982.0 577.0,1982.1 580.0,1982.2 583.0,1982.3 586.0,1982.4 589.0,1982.5 592.0,1982.6 595.0,1982.7 598.0,1982.8 601.0,1982.9 604.0,1983.1 607.0,1983.2 610.0,1983.3 613.0,1983.5 616.0,1983.6 619.0,1983.8 622.0,1983.9 625.0,1984.1 628.0,1984.3 631.0,1984.4 634.0,1984.6 637.0,1984.8 640.0,1985.0 643.0,1985.2 646.0,1985.3 649.0,1985.5 652.0,1985.7 655.0,1985.9 658.0,1986.1 661.0,1986.3 664.0,1986.5 667.0,1986.7 670.0,1986.9 673.0,1987.1 676.0,1987.4 679.0,1987.6 682.0,1987.8 685.0,1988.0 688.0,1988.2 691.0,1988.4 694.0,1988.6 697.0,1988.8 700.0,1989.1 703.0,1989.3 706.0,1989.5 709.0,1989.7 712.0,1989.9 715.0,1990.1 718.0,1990.4 721.0,1990.6 724.0,1990.8 727.0,1991.0 730.0,1991.2 733.0,1991.4 736.0,1991.6 739.0,1991.9 742.0,1992.1 745.0,1992.3 748.0,1992.5 751.0,1992.7 754.0,1992.9 757.0,1993.1 760.0,1993.3 763.0,1993.5 766.0,1993.7 769.0,1993.9 772.0,1994.1 775.0,1994.2 778.0,1994.4 781.0,1994.6 784.0,1994.8 787.0,1994.9 790.0,1995.1 793.0,1995.2 796.0,1995.4 799.0,1995.5 802.0,1995.7 805.0,1995.8 808.0,1995.9 811.0,1996.0 814.0,1996.2 817.0,1996.3 820.0,1996.4 823.0,1996.5 826.0,1996.6 829.0,1996.6 832.0,1996.7 835.0,1996.8 838.0,1996.9 841.0,1996.9 844.0,1997.0 847.0,1997.1 850.0,1997.1 853.0,1997.2 856.0,1997.2 859.0,1997.3 862.0,1997.3 865.0,1997.3 868.0,1997.4 871.0,1997.4 874.0,1997.4 877.0,1997.4 880.0,1997.5 883.0,1997.5 886.0,1997.5 889.0,1997.5 892.0,1997.5 895.0,1997.5 898.0,1997.6 901.0,1997.6 904.0,1997.6 907.0,1997.6 910.0,1997.6 913.0,1997.6 916.0,1997.6 919.0,1997.6 922.0,1997.6 925.0,1997.6 928.0,1997.6 931.0,1997.6 934.0,1997.6 937.0,1997.6 940.0,1997.6 943.0,1997.6 946.0,1997.6 949.0,1997.7 952.0,1997.7 955.0,1997.7 958.0,1997.7 961.0,1997.7 964.0,1997.7 967.0,1997.7 970.0,1997.7 973.0,1997.7 976.0,1997.7 979.0,1997.7 982.0,1997.7 985.0,1997.7 988.0,1997.7 991.0,1997.7 994.0,1997.8 997.0,1997.8 1000.0,1997.8 1003.0,1997.8 1006.0,1997.8 1009.0,1997.8 1012.0,1997.8 1015.0,1997.8 1018.0,1997.9 1021.0,1997.9 1024.0,1997.9 1027.0,1997.9 1030.0,1997.9 1033.0,1998.0 1036.0,1998.0 1039.0,1998.0 1042.0,1998.0 1045.0,1998.1 1048.0,1998.1 1051.0,1998.1 1054.0,1998.2 1057.0,1998.2 1060.0,1998.2 1063.0,1998.3 1066.0,1998.3 1069.0,1998.3 1072.0,1998.4 1075.0,1998.4 1078.0,1998.4 1081.0,1998.5 1084.0,1998.5 1087.0,1998.6 1090.0,1998.6 1093.0,1998.7 1096.0,1998.7 1099.0,1998.8 1102.0,1998.8 1105.0,1998.9 1108.0,1998.9 1111.0,1999.0 1114.0,1999.1 1117.0,1999.1 1120.0,1999.2 1123.0,1999.3 1126.0,1999.4 1129.0,1999.4 1132.0,1999.5 1135.0,1999.6 1138.0,1999.7 1141.0,1999.8 1144.0,1999.9 1147.0,2000.0 1150.0,2000.1 1153.0,2000.3 1156.0,2000.4 1159.0,2000.5 1162.0,2000.6 1165.0,2000.8 1168.0,2000.9 1171.0,2001.1 1174.0,2001.3 1177.0,2001.4 1180.0,2001.6 1183.0,2001.8 1186.0,2002.0 1189.0,2002.2 1192.0,2002.4 1195.0,2002.6 1198.0,2002.8 1201.0,2003.0 1204.0,2003.2 1207.0,2003.5 1210.0,2003.7 1213.0,2003.9 1216.0,2004.2 1219.0,2004.4 1222.0,2004.7 1225.0,2004.9 1228.0,2005.2 1231.0,2005.4 1234.0,2005.7 1237.0,2006.0 1240.0,2006.2 1243.0,2006.5 1246.0,2006.8 1249.0,2007.0 1252.0,2007.3 1255.0,2007.6 1258.0,2007.9 1261.0,2008.1 1264.0,2008.4 1267.0,2008.7 1270.0,2009.0 1273.0,2009.3 1276.0,2009.6 1279.0,2009.8 1282.0,2010.1 1285.0,2010.4 1288.0,2010.7 1291.0,2011.0 1294.0,2011.3 1297.0,2011.6 1300.0,2011.8 1303.0,2012.1 1306.0,2012.4 1309.0,2012.7 1312.0,2013.0 1315.0,2013.2 1318.0,2013.5 1321.0,2013.8 1324.0,2014.1 1327.0,2014.3 1330.0,2014.6 1333.0,2014.9 1336.0,2015.1 1339.0,2015.4 1342.0,2015.6 1345.0,2015.9 1348.0,2016.1 1351.0,2016.3 1354.0,2016.6 1357.0,2016.8 1360.0,2017.0 1363.0,2017.2 1366.0,2017.4 1369.0,2017.6 1372.0,2017.8 1375.0,2018.0 1378.0,2018.2 1381.0,2018.4 1384.0,2018.5 1387.0,2018.7 1390.0,2018.9 1393.0,2019.0 1396.0,2019.1 1399.0,2019.3 1402.0,2019.4 1405.0,2019.5 1408.0,2019.6 1411.0,2019.7 1414.0,2019.8 1417.0,2019.9 1420.0,2020.0 1423.0,2020.1 1426.0,2020.2 1429.0,2020.3 1432.0,2020.3 1435.0,2020.4 1438.0,2020.4 1441.0,2020.5 1444.0,2020.5 1447.0,2020.6 1450.0,2020.6 1453.0,2020.7 1456.0,2020.7 1459.0,2020.7 1462.0,2020.8 1465.0,2020.8 1468.0,2020.8 1471.0,2020.8 1474.0,2020.8 1477.0,2020.9 1480.0,2020.9 1483.0,2020.9 1486.0,2020.9 1489.0,2020.9 1492.0,2020.9 1495.0,2020.9 1498.0,2020.9 1501.0,2021.0 1504.0,2021.0 1507.0,2021.0 1510.0,2021.0 1513.0,2021.0 1516.0,2021.0 1519.0,2021.0 1522.0,2021.0 1525.0,2021.0 1528.0,2021.0 1531.0,2021.0 1534.0,2021.0 1537.0,2021.0 1540.0,2021.0 1543.0,2021.0 1546.0,2021.0 1549.0,2021.0 1552.0,2021.0 1555.0,2021.0 1558.0,2021.0 1561.0,2021.0 1564.0,2021.0 1567.0,2021.0 1570.0,2021.0 1573.0,2021.0 1576.0,2021.0 1579.0,2021.0 1582.0,2021.0 1585.0,2021.0 1588.0,2021.0 1591.0,2021.0 1594.0,2021.0 1597.0,2021.0 1600.0,2021.0 1603.0,2021.0 1606.0,2021.0 1609.0,2021.0 1612.0,2021.0 1615.0,2021.0 1618.0,2021.0 1621.0,2021.0 1624.0,2021.0 1627.0,2021.0 1630.0,2021.0 1633.0,2021.0 1636.0,2021.0 1639.0,2021.0 1642.0,2021.0 1645.0,2021.0 1648.0,2021.0 1651.0,2021.0 1654.0,2021.0 1657.0,2021.0 1657.0,2021.0" fill="none" stroke="#2f6e35" stroke-width="2.6" stroke-linejoin="round"/>
<polyline points="292.0,1979.3 295.0,1979.2 298.0,1979.1 301.0,1979.1 304.0,1979.0 307.0,1978.9 310.0,1978.8 313.0,1978.6 316.0,1978.5 319.0,1978.4 322.0,1978.2 325.0,1978.0 328.0,1977.9 331.0,1977.6 334.0,1977.4 337.0,1977.2 340.0,1976.9 343.0,1976.6 346.0,1976.3 349.0,1976.0 352.0,1975.6 355.0,1975.2 358.0,1974.8 361.0,1974.3 364.0,1973.8 367.0,1973.3 370.0,1972.8 373.0,1972.2 376.0,1971.6 379.0,1970.9 382.0,1970.2 385.0,1969.5 388.0,1968.7 391.0,1967.9 394.0,1967.1 397.0,1966.2 400.0,1965.3 403.0,1964.3 406.0,1963.3 409.0,1962.3 412.0,1961.3 415.0,1960.2 418.0,1959.0 421.0,1957.9 424.0,1956.7 427.0,1955.5 430.0,1954.3 433.0,1953.0 436.0,1951.8 439.0,1950.5 442.0,1949.1 445.0,1947.8 448.0,1946.5 451.0,1945.1 454.0,1943.7 457.0,1942.3 460.0,1940.9 463.0,1939.5 466.0,1938.0 469.0,1936.5 472.0,1935.0 475.0,1933.5 478.0,1931.9 481.0,1930.3 484.0,1928.7 487.0,1927.0 490.0,1925.2 493.0,1923.4 496.0,1921.4 499.0,1919.4 502.0,1917.3 505.0,1915.0 508.0,1912.7 511.0,1910.2 514.0,1907.5 517.0,1904.8 520.0,1901.8 523.0,1898.7 526.0,1895.4 529.0,1891.8 532.0,1888.1 535.0,1884.0 538.0,1879.7 541.0,1875.1 544.0,1870.3 547.0,1865.1 550.0,1859.6 553.0,1853.7 556.0,1847.6 559.0,1841.1 562.0,1834.3 565.0,1827.1 568.0,1819.7 571.0,1812.0 574.0,1803.9 577.0,1795.6 580.0,1787.1 583.0,1778.3 586.0,1769.4 589.0,1760.2 592.0,1751.0 595.0,1741.7 598.0,1732.3 601.0,1722.8 604.0,1713.4 607.0,1704.1 610.0,1694.8 613.0,1685.7 616.0,1676.7 619.0,1667.9 622.0,1659.4 625.0,1651.1 628.0,1643.1 631.0,1635.4 634.0,1628.1 637.0,1621.1 640.0,1614.4 643.0,1608.2 646.0,1602.3 649.0,1596.8 652.0,1591.6 655.0,1586.9 658.0,1582.5 661.0,1578.4 664.0,1574.7 667.0,1571.3 670.0,1568.3 673.0,1565.5 676.0,1563.0 679.0,1560.8 682.0,1558.8 685.0,1557.0 688.0,1555.5 691.0,1554.1 694.0,1553.0 697.0,1552.0 700.0,1551.2 703.0,1550.7 706.0,1550.3 709.0,1550.1 712.0,1550.1 715.0,1550.3 718.0,1550.7 721.0,1551.4 724.0,1552.4 727.0,1553.6 730.0,1555.2 733.0,1557.1 736.0,1559.3 739.0,1562.0 742.0,1565.0 745.0,1568.5 748.0,1572.4 751.0,1576.7 754.0,1581.5 757.0,1586.8 760.0,1592.6 763.0,1599.0 766.0,1605.8 769.0,1613.2 772.0,1621.1 775.0,1629.4 778.0,1638.3 781.0,1647.6 784.0,1657.3 787.0,1667.3 790.0,1677.8 793.0,1688.5 796.0,1699.5 799.0,1710.7 802.0,1722.1 805.0,1733.6 808.0,1745.2 811.0,1756.8 814.0,1768.4 817.0,1780.0 820.0,1791.4 823.0,1802.7 826.0,1813.8 829.0,1824.7 832.0,1835.3 835.0,1845.6 838.0,1855.6 841.0,1865.3 844.0,1874.6 847.0,1883.5 850.0,1892.0 853.0,1900.1 856.0,1907.9 859.0,1915.1 862.0,1922.0 865.0,1928.5 868.0,1934.6 871.0,1940.2 874.0,1945.5 877.0,1950.4 880.0,1954.9 883.0,1959.1 886.0,1962.9 889.0,1966.4 892.0,1969.6 895.0,1972.4 898.0,1975.0 901.0,1977.4 904.0,1979.5 907.0,1981.3 910.0,1983.0 913.0,1984.4 916.0,1985.7 919.0,1986.7 922.0,1987.6 925.0,1988.4 928.0,1989.0 931.0,1989.4 934.0,1989.8 937.0,1990.0 940.0,1990.0 943.0,1990.0 946.0,1989.9 949.0,1989.7 952.0,1989.3 955.0,1988.9 958.0,1988.4 961.0,1987.8 964.0,1987.1 967.0,1986.3 970.0,1985.4 973.0,1984.5 976.0,1983.4 979.0,1982.3 982.0,1981.1 985.0,1979.8 988.0,1978.5 991.0,1977.0 994.0,1975.5 997.0,1973.9 1000.0,1972.3 1003.0,1970.6 1006.0,1968.8 1009.0,1966.9 1012.0,1965.1 1015.0,1963.1 1018.0,1961.1 1021.0,1959.1 1024.0,1957.1 1027.0,1955.0 1030.0,1952.8 1033.0,1950.7 1036.0,1948.5 1039.0,1946.3 1042.0,1944.1 1045.0,1941.9 1048.0,1939.7 1051.0,1937.4 1054.0,1935.1 1057.0,1932.8 1060.0,1930.5 1063.0,1928.1 1066.0,1925.6 1069.0,1923.1 1072.0,1920.6 1075.0,1917.9 1078.0,1915.2 1081.0,1912.3 1084.0,1909.2 1087.0,1906.1 1090.0,1902.7 1093.0,1899.1 1096.0,1895.2 1099.0,1891.1 1102.0,1886.7 1105.0,1882.0 1108.0,1877.0 1111.0,1871.6 1114.0,1865.8 1117.0,1859.6 1120.0,1853.0 1123.0,1845.9 1126.0,1838.4 1129.0,1830.5 1132.0,1822.0 1135.0,1813.2 1138.0,1803.9 1141.0,1794.1 1144.0,1783.9 1147.0,1773.3 1150.0,1762.3 1153.0,1750.9 1156.0,1739.3 1159.0,1727.3 1162.0,1715.1 1165.0,1702.7 1168.0,1690.1 1171.0,1677.4 1174.0,1664.7 1177.0,1652.0 1180.0,1639.3 1183.0,1626.8 1186.0,1614.4 1189.0,1602.2 1192.0,1590.2 1195.0,1578.6 1198.0,1567.4 1201.0,1556.5 1204.0,1546.1 1207.0,1536.1 1210.0,1526.6 1213.0,1517.6 1216.0,1509.1 1219.0,1501.2 1222.0,1493.7 1225.0,1486.8 1228.0,1480.5 1231.0,1474.6 1234.0,1469.2 1237.0,1464.3 1240.0,1459.9 1243.0,1455.8 1246.0,1452.2 1249.0,1449.0 1252.0,1446.1 1255.0,1443.5 1258.0,1441.2 1261.0,1439.2 1264.0,1437.4 1267.0,1435.9 1270.0,1434.7 1273.0,1433.6 1276.0,1432.8 1279.0,1432.2 1282.0,1431.8 1285.0,1431.7 1288.0,1431.9 1291.0,1432.3 1294.0,1433.1 1297.0,1434.2 1300.0,1435.7 1303.0,1437.5 1306.0,1439.8 1309.0,1442.6 1312.0,1445.9 1315.0,1449.8 1318.0,1454.2 1321.0,1459.2 1324.0,1464.9 1327.0,1471.2 1330.0,1478.2 1333.0,1485.8 1336.0,1494.0 1339.0,1502.7 1342.0,1511.9 1345.0,1521.7 1348.0,1532.0 1351.0,1542.8 1354.0,1554.0 1357.0,1565.8 1360.0,1577.9 1363.0,1590.5 1366.0,1603.4 1369.0,1616.6 1372.0,1630.1 1375.0,1643.9 1378.0,1657.8 1381.0,1671.9 1384.0,1686.1 1387.0,1700.3 1390.0,1714.5 1393.0,1728.7 1396.0,1742.7 1399.0,1756.6 1402.0,1770.4 1405.0,1783.9 1408.0,1797.1 1411.0,1810.0 1414.0,1822.6 1417.0,1834.9 1420.0,1846.7 1423.0,1858.2 1426.0,1869.2 1429.0,1879.8 1432.0,1889.9 1435.0,1899.5 1438.0,1908.7 1441.0,1917.4 1444.0,1925.7 1447.0,1933.4 1450.0,1940.7 1453.0,1947.6 1456.0,1954.0 1459.0,1960.0 1462.0,1965.6 1465.0,1970.8 1468.0,1975.6 1471.0,1980.0 1474.0,1984.1 1477.0,1987.8 1480.0,1991.2 1483.0,1994.4 1486.0,1997.2 1489.0,1999.8 1492.0,2002.2 1495.0,2004.3 1498.0,2006.2 1501.0,2007.9 1504.0,2009.5 1507.0,2010.9 1510.0,2012.1 1513.0,2013.2 1516.0,2014.2 1519.0,2015.0 1522.0,2015.8 1525.0,2016.5 1528.0,2017.1 1531.0,2017.6 1534.0,2018.1 1537.0,2018.5 1540.0,2018.8 1543.0,2019.1 1546.0,2019.4 1549.0,2019.6 1552.0,2019.8 1555.0,2020.0 1558.0,2020.1 1561.0,2020.3 1564.0,2020.4 1567.0,2020.4 1570.0,2020.5 1573.0,2020.6 1576.0,2020.6 1579.0,2020.7 1582.0,2020.7 1585.0,2020.8 1588.0,2020.8 1591.0,2020.8 1594.0,2020.8 1597.0,2020.9 1600.0,2020.9 1603.0,2020.9 1606.0,2020.9 1609.0,2020.9 1612.0,2020.9 1615.0,2020.9 1618.0,2020.9 1621.0,2020.9 1624.0,2020.9 1627.0,2020.9 1630.0,2020.9 1633.0,2020.9 1636.0,2020.9 1639.0,2020.9 1642.0,2020.9 1645.0,2020.9 1648.0,2020.9 1651.0,2020.9 1654.0,2020.9 1657.0,2020.9 1657.0,2020.9" fill="none" stroke="#2bb2bb" stroke-width="2.7" stroke-linejoin="round"/>
<text transform="matrix(1.0200,0,0,1,124.75,958.81)" font-size="51.00" font-weight="bold">200</text>
<text transform="matrix(1.0200,0,0,1,124.75,810.39)" font-size="51.00" font-weight="bold">700</text>
<text transform="matrix(1.0200,0,0,1,98.74,661.98)" font-size="51.00" font-weight="bold">1200</text>
<text transform="matrix(1.0200,0,0,1,98.74,513.56)" font-size="51.00" font-weight="bold">1700</text>
<text transform="matrix(1.0200,0,0,1,98.74,365.14)" font-size="51.00" font-weight="bold">2200</text>
<text transform="matrix(1.0200,0,0,1,98.74,216.73)" font-size="51.00" font-weight="bold">2700</text>
<text transform="matrix(1.0200,0,0,1,98.74,68.31)" font-size="51.00" font-weight="bold">3200</text>
<text transform="matrix(1.0300,0,0,1,128.06,2122.08)" font-size="50.30" font-weight="bold">200</text>
<text transform="matrix(1.0300,0,0,1,128.06,1976.53)" font-size="50.30" font-weight="bold">700</text>
<text transform="matrix(1.0300,0,0,1,102.16,1830.98)" font-size="50.30" font-weight="bold">1200</text>
<text transform="matrix(1.0300,0,0,1,102.16,1685.43)" font-size="50.30" font-weight="bold">1700</text>
<text transform="matrix(1.0300,0,0,1,102.16,1539.88)" font-size="50.30" font-weight="bold">2200</text>
<text transform="matrix(1.0300,0,0,1,102.16,1394.33)" font-size="50.30" font-weight="bold">2700</text>
<text transform="matrix(1.0300,0,0,1,102.16,1248.78)" font-size="50.30" font-weight="bold">3200</text>
<text transform="matrix(1.0000,0,0,1,207.20,1020.07)" font-size="51.30" font-weight="bold">147</text>
<text transform="matrix(1.0000,0,0,1,443.16,1020.07)" font-size="51.30" font-weight="bold">145</text>
<text transform="matrix(1.0000,0,0,1,678.75,1020.17)" font-size="51.30" font-weight="bold">143</text>
<text transform="matrix(1.0000,0,0,1,914.85,1020.07)" font-size="51.30" font-weight="bold">141</text>
<text transform="matrix(1.0000,0,0,1,1150.10,1020.17)" font-size="51.30" font-weight="bold">139</text>
<text transform="matrix(1.0000,0,0,1,1385.45,1020.17)" font-size="51.30" font-weight="bold">137</text>
<text transform="matrix(1.0000,0,0,1,1621.41,1020.17)" font-size="51.30" font-weight="bold">135</text>
<text transform="matrix(1.0000,0,0,1,208.94,2183.79)" font-size="52.40" font-weight="bold">147</text>
<text transform="matrix(1.0000,0,0,1,444.28,2183.79)" font-size="52.40" font-weight="bold">145</text>
<text transform="matrix(1.0000,0,0,1,679.23,2183.89)" font-size="52.40" font-weight="bold">143</text>
<text transform="matrix(1.0000,0,0,1,914.71,2183.79)" font-size="52.40" font-weight="bold">141</text>
<text transform="matrix(1.0000,0,0,1,1149.32,2183.89)" font-size="52.40" font-weight="bold">139</text>
<text transform="matrix(1.0000,0,0,1,1384.02,2183.89)" font-size="52.40" font-weight="bold">137</text>
<text transform="matrix(1.0000,0,0,1,1619.36,2183.89)" font-size="52.40" font-weight="bold">135</text>
<text transform="matrix(1.0018,0,0,1,732.75,1091.93)" font-size="51.06" font-weight="bold" fill="#000">Binding energy (eV)</text>
<text transform="matrix(1.0007,0,0,1,733.55,2242.58)" font-size="51.28" font-weight="bold" fill="#000">Binding energy (eV)</text>
<text transform="translate(62.20,707.57) rotate(-90) scale(1.0038,1)" font-size="58.37" font-weight="bold">Intensity (CPS)</text>
<text transform="translate(81.45,1838.23) rotate(-90) scale(0.9861,1)" font-size="52.11" font-weight="bold">Intensity (CPS)</text>
<text transform="matrix(1.0043,0,0,1,1496.10,122.59)" font-size="52.39" font-weight="bold" fill="#000">Pb 4f</text>
<text transform="matrix(1.0341,0,0,1,1505.99,1295.10)" font-size="51.27" font-weight="bold" fill="#000">Pb 4f</text>
<text transform="matrix(1.0147,0,0,1,608.50,455.53)" font-size="58.13" font-weight="normal" fill="#000">Pb-OH</text>
<text transform="matrix(0.9879,0,0,1,1167.06,446.92)" font-size="59.27" font-weight="normal" fill="#000">Pb-OH</text>
<text transform="matrix(1.0147,0,0,1,786.49,622.03)" font-size="58.41" font-weight="normal" fill="#000">Pb-O</text>
<text transform="matrix(1.0050,0,0,1,1404.98,631.12)" font-size="59.27" font-weight="normal" fill="#000">Pb-O</text>
<text transform="matrix(0.9702,0,0,1,582.71,1490.28)" font-size="53.44" font-weight="normal" fill="#000">Pb-OH</text>
<text transform="matrix(0.9857,0,0,1,1125.32,1416.29)" font-size="52.02" font-weight="normal" fill="#000">Pb-OH</text>
<text transform="matrix(1.0055,0,0,1,814.61,1638.40)" font-size="51.59" font-weight="normal" fill="#000">Pb-O</text>
<text transform="matrix(1.0007,0,0,1,1400.51,1769.30)" font-size="51.59" font-weight="normal" fill="#000">Pb-O</text>
<text transform="matrix(1.0287,0,0,1,372.49,602.44)" font-size="57.56" font-weight="normal" fill="#000">PbSO</text><text transform="matrix(1.0235,0,0,1,509.19,615.90)" font-size="40.56" font-weight="normal" fill="#000">4</text>
<text transform="matrix(1.0099,0,0,1,946.90,596.03)" font-size="58.41" font-weight="normal" fill="#000">PbSO</text><text transform="matrix(0.9652,0,0,1,1083.64,609.20)" font-size="40.56" font-weight="normal" fill="#000">4</text>
<text transform="matrix(0.9874,0,0,1,390.70,1837.29)" font-size="52.73" font-weight="normal" fill="#000">PbSO</text><text transform="matrix(0.9988,0,0,1,511.54,1848.50)" font-size="34.03" font-weight="normal" fill="#000">4</text>
<text transform="matrix(0.9832,0,0,1,960.71,1853.69)" font-size="52.73" font-weight="normal" fill="#000">PbSO</text><text transform="matrix(0.9828,0,0,1,1081.56,1864.40)" font-size="33.27" font-weight="normal" fill="#000">4</text>
<line x1="462.0" y1="609.0" x2="461.9" y2="677.4" stroke="#4a4a4a" stroke-width="2.8"/><polygon points="461.8,702.4 447.9,675.4 475.9,675.4" fill="#000"/>
<line x1="638.0" y1="457.3" x2="637.4" y2="568.8" stroke="#4a4a4a" stroke-width="2.8"/><polygon points="637.3,593.8 623.4,566.7 651.4,566.9" fill="#000"/>
<line x1="815.3" y1="609.1" x2="773.3" y2="669.0" stroke="#1a1a1a" stroke-width="2.0"/><polygon points="758.9,689.5 762.9,659.4 785.9,675.4" fill="#000"/>
<line x1="1018.7" y1="611.4" x2="1051.9" y2="678.5" stroke="#1a1a1a" stroke-width="2.0"/><polygon points="1063.0,700.9 1038.5,682.9 1063.6,670.5" fill="#000"/>
<line x1="1227.3" y1="443.9" x2="1224.8" y2="526.7" stroke="#4a4a4a" stroke-width="2.8"/><polygon points="1224.1,551.7 1210.9,524.3 1238.9,525.1" fill="#000"/>
<line x1="1395.3" y1="621.5" x2="1356.6" y2="671.2" stroke="#1a1a1a" stroke-width="2.0"/><polygon points="1341.2,690.9 1346.8,661.0 1368.8,678.2" fill="#000"/>
<line x1="475.6" y1="1855.3" x2="475.6" y2="1925.2" stroke="#4a4a4a" stroke-width="2.8"/><polygon points="475.6,1950.2 461.6,1923.2 489.6,1923.2" fill="#000"/>
<line x1="636.5" y1="1531.8" x2="634.5" y2="1720.9" stroke="#4a4a4a" stroke-width="2.8"/><polygon points="634.2,1745.9 620.5,1718.8 648.5,1719.1" fill="#000"/>
<line x1="812.7" y1="1627.0" x2="769.1" y2="1688.0" stroke="#1a1a1a" stroke-width="2.0"/><polygon points="754.5,1708.3 758.8,1678.2 781.6,1694.5" fill="#000"/>
<line x1="1063.1" y1="1846.6" x2="1063.1" y2="1917.4" stroke="#4a4a4a" stroke-width="2.8"/><polygon points="1063.1,1942.4 1049.1,1915.4 1077.1,1915.4" fill="#000"/>
<line x1="1208.1" y1="1418.3" x2="1208.0" y2="1618.6" stroke="#4a4a4a" stroke-width="2.8"/><polygon points="1208.0,1643.6 1194.0,1616.6 1222.0,1616.6" fill="#000"/>
<line x1="1420.8" y1="1770.0" x2="1381.7" y2="1820.2" stroke="#1a1a1a" stroke-width="2.0"/><polygon points="1366.3,1839.9 1371.9,1810.0 1393.9,1827.2" fill="#000"/>
<rect x="246.6" y="52.4" width="1413.9" height="890.5" fill="none" stroke="#000" stroke-width="4.8"/><line x1="246.6" y1="794.48" x2="261.6" y2="794.48" stroke="#000" stroke-width="4"/><line x1="246.6" y1="646.07" x2="261.6" y2="646.07" stroke="#000" stroke-width="4"/><line x1="246.6" y1="497.65" x2="261.6" y2="497.65" stroke="#000" stroke-width="4"/><line x1="246.6" y1="349.23" x2="261.6" y2="349.23" stroke="#000" stroke-width="4"/><line x1="246.6" y1="200.82" x2="261.6" y2="200.82" stroke="#000" stroke-width="4"/><line x1="482.25" y1="942.9" x2="482.25" y2="927.9" stroke="#000" stroke-width="4"/><line x1="717.90" y1="942.9" x2="717.90" y2="927.9" stroke="#000" stroke-width="4"/><line x1="953.55" y1="942.9" x2="953.55" y2="927.9" stroke="#000" stroke-width="4"/><line x1="1189.20" y1="942.9" x2="1189.20" y2="927.9" stroke="#000" stroke-width="4"/><line x1="1424.85" y1="942.9" x2="1424.85" y2="927.9" stroke="#000" stroke-width="4"/>
<rect x="249.2" y="1233.3" width="1410.1" height="873.3" fill="none" stroke="#000" stroke-width="4.8"/><line x1="249.2" y1="1961.05" x2="264.2" y2="1961.05" stroke="#000" stroke-width="4"/><line x1="249.2" y1="1815.50" x2="264.2" y2="1815.50" stroke="#000" stroke-width="4"/><line x1="249.2" y1="1669.95" x2="264.2" y2="1669.95" stroke="#000" stroke-width="4"/><line x1="249.2" y1="1524.40" x2="264.2" y2="1524.40" stroke="#000" stroke-width="4"/><line x1="249.2" y1="1378.85" x2="264.2" y2="1378.85" stroke="#000" stroke-width="4"/><line x1="484.22" y1="2106.6" x2="484.22" y2="2091.6" stroke="#000" stroke-width="4"/><line x1="719.23" y1="2106.6" x2="719.23" y2="2091.6" stroke="#000" stroke-width="4"/><line x1="954.25" y1="2106.6" x2="954.25" y2="2091.6" stroke="#000" stroke-width="4"/><line x1="1189.27" y1="2106.6" x2="1189.27" y2="2091.6" stroke="#000" stroke-width="4"/><line x1="1424.28" y1="2106.6" x2="1424.28" y2="2091.6" stroke="#000" stroke-width="4"/>
</svg></body></html>
